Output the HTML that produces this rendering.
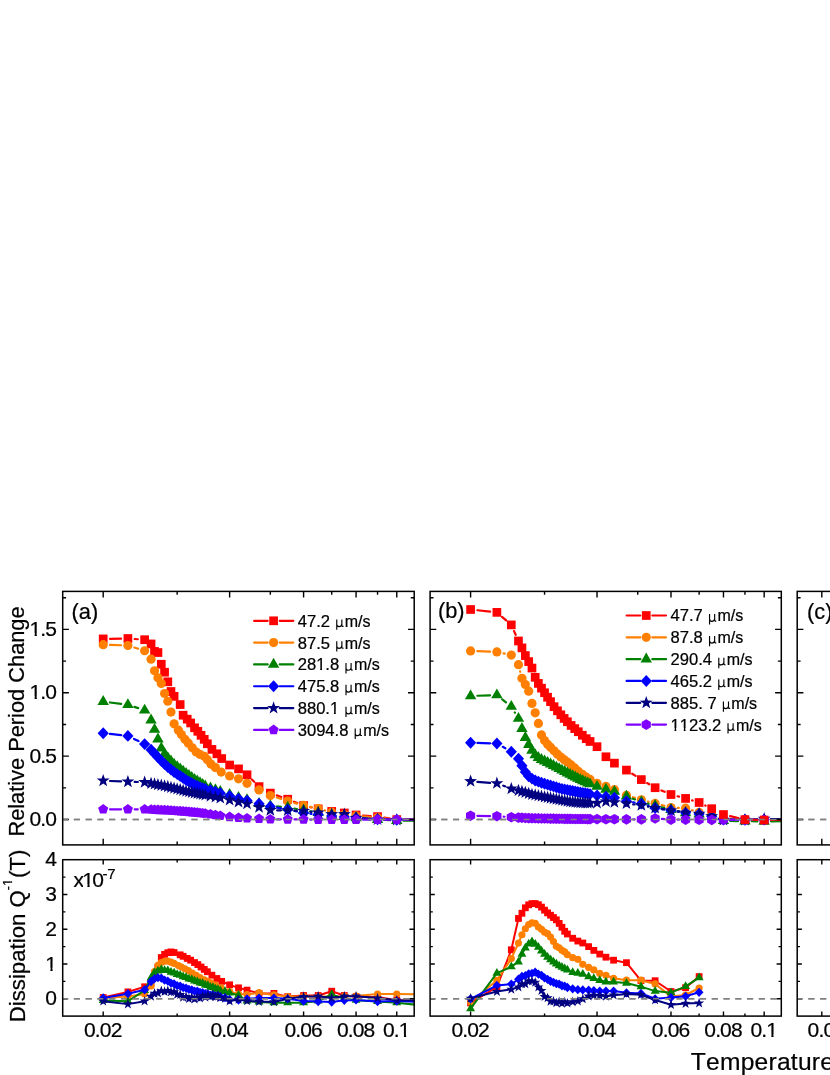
<!DOCTYPE html>
<html><head><meta charset="utf-8"><title>fig</title>
<style>html,body{margin:0;padding:0;background:#fff}text{font-kerning:none;fill:#000;stroke:#000;stroke-width:0.22px}</style></head>
<body>
<svg width="830" height="1075" viewBox="0 0 830 1075" style="display:block;will-change:transform">
<rect width="830" height="1075" fill="#fff"/>
<defs>
<clipPath id="ct0"><rect x="62.7" y="591.4" width="351.5" height="253.5"/></clipPath>
<clipPath id="cb0"><rect x="62.7" y="859.7" width="351.5" height="156.39999999999998"/></clipPath>
<clipPath id="ct1"><rect x="430.1" y="591.4" width="351.19999999999993" height="253.5"/></clipPath>
<clipPath id="cb1"><rect x="430.1" y="859.7" width="351.19999999999993" height="156.39999999999998"/></clipPath>
<clipPath id="ct2"><rect x="797.2" y="591.4" width="352.79999999999995" height="253.5"/></clipPath>
<clipPath id="cb2"><rect x="797.2" y="859.7" width="352.79999999999995" height="156.39999999999998"/></clipPath>
</defs>
<path d="M62.7,819.55H414.2" stroke="#808080" stroke-width="1.6" stroke-dasharray="6.1,5.66" stroke-dashoffset="0.6" fill="none"/>
<path d="M62.7,998.72H414.2" stroke="#808080" stroke-width="1.6" stroke-dasharray="6.1,5.66" stroke-dashoffset="0.6" fill="none"/>
<path d="M430.1,819.55H781.3" stroke="#808080" stroke-width="1.6" stroke-dasharray="6.1,5.66" stroke-dashoffset="0.6" fill="none"/>
<path d="M430.1,998.72H781.3" stroke="#808080" stroke-width="1.6" stroke-dasharray="6.1,5.66" stroke-dashoffset="0.6" fill="none"/>
<path d="M797.2,819.55H1150.0" stroke="#808080" stroke-width="1.6" stroke-dasharray="6.1,5.66" stroke-dashoffset="0.6" fill="none"/>
<path d="M797.2,998.72H1150.0" stroke="#808080" stroke-width="1.6" stroke-dasharray="6.1,5.66" stroke-dashoffset="0.6" fill="none"/>
<g clip-path="url(#ct0)">
<path d="M110.00,638.79L121.10,638.62M134.68,639.00L137.85,639.23M251.87,779.54L254.20,781.83M276.75,795.35L281.30,796.95M294.03,801.74L297.28,803.06M310.22,807.10L311.56,807.40M362.85,815.51L370.77,816.09M384.27,817.65L390.05,818.55M403.57,819.63L430.67,819.77" stroke="#ff0000" stroke-width="2.2" fill="none" stroke-linecap="round" stroke-linejoin="round"/>
<rect x="98.85" y="634.55" width="8.70" height="8.70" fill="#ff0000"/>
<rect x="123.55" y="634.16" width="8.70" height="8.70" fill="#ff0000"/>
<rect x="140.28" y="635.36" width="8.70" height="8.70" fill="#ff0000"/>
<rect x="146.71" y="639.59" width="8.70" height="8.70" fill="#ff0000"/>
<rect x="150.18" y="647.09" width="8.70" height="8.70" fill="#ff0000"/>
<rect x="153.59" y="648.19" width="8.70" height="8.70" fill="#ff0000"/>
<rect x="156.94" y="659.90" width="8.70" height="8.70" fill="#ff0000"/>
<rect x="160.22" y="667.86" width="8.70" height="8.70" fill="#ff0000"/>
<rect x="163.45" y="677.46" width="8.70" height="8.70" fill="#ff0000"/>
<rect x="166.62" y="687.15" width="8.70" height="8.70" fill="#ff0000"/>
<rect x="169.74" y="692.00" width="8.70" height="8.70" fill="#ff0000"/>
<rect x="175.82" y="700.21" width="8.70" height="8.70" fill="#ff0000"/>
<rect x="178.79" y="710.88" width="8.70" height="8.70" fill="#ff0000"/>
<rect x="182.86" y="714.82" width="8.70" height="8.70" fill="#ff0000"/>
<rect x="186.28" y="718.62" width="8.70" height="8.70" fill="#ff0000"/>
<rect x="190.19" y="723.44" width="8.70" height="8.70" fill="#ff0000"/>
<rect x="193.48" y="726.96" width="8.70" height="8.70" fill="#ff0000"/>
<rect x="196.71" y="730.97" width="8.70" height="8.70" fill="#ff0000"/>
<rect x="199.88" y="734.99" width="8.70" height="8.70" fill="#ff0000"/>
<rect x="203.00" y="739.44" width="8.70" height="8.70" fill="#ff0000"/>
<rect x="207.58" y="745.04" width="8.70" height="8.70" fill="#ff0000"/>
<rect x="212.54" y="749.44" width="8.70" height="8.70" fill="#ff0000"/>
<rect x="217.36" y="754.20" width="8.70" height="8.70" fill="#ff0000"/>
<rect x="225.28" y="760.67" width="8.70" height="8.70" fill="#ff0000"/>
<rect x="234.18" y="764.53" width="8.70" height="8.70" fill="#ff0000"/>
<rect x="242.67" y="770.43" width="8.70" height="8.70" fill="#ff0000"/>
<rect x="254.70" y="782.25" width="8.70" height="8.70" fill="#ff0000"/>
<rect x="265.98" y="788.75" width="8.70" height="8.70" fill="#ff0000"/>
<rect x="283.37" y="794.85" width="8.70" height="8.70" fill="#ff0000"/>
<rect x="299.24" y="801.25" width="8.70" height="8.70" fill="#ff0000"/>
<rect x="313.84" y="804.55" width="8.70" height="8.70" fill="#ff0000"/>
<rect x="327.36" y="807.05" width="8.70" height="8.70" fill="#ff0000"/>
<rect x="339.94" y="808.65" width="8.70" height="8.70" fill="#ff0000"/>
<rect x="351.72" y="810.65" width="8.70" height="8.70" fill="#ff0000"/>
<rect x="373.20" y="812.25" width="8.70" height="8.70" fill="#ff0000"/>
<rect x="392.42" y="815.25" width="8.70" height="8.70" fill="#ff0000"/>
<rect x="433.12" y="815.45" width="8.70" height="8.70" fill="#ff0000"/>
</g>
<g clip-path="url(#ct0)">
<path d="M110.00,644.92L121.10,645.27M134.39,647.52L138.14,648.69M276.82,797.55L281.24,798.95M294.27,802.82L297.04,803.58M310.23,806.86L311.55,807.14M324.76,810.35L325.14,810.45M362.84,816.37L370.77,817.03M384.31,818.37L390.01,819.03M403.57,819.80L430.67,819.80" stroke="#ff8000" stroke-width="2.2" fill="none" stroke-linecap="round" stroke-linejoin="round"/>
<circle cx="103.20" cy="644.70" r="4.60" fill="#ff8000"/>
<circle cx="127.90" cy="645.48" r="4.60" fill="#ff8000"/>
<circle cx="144.63" cy="650.73" r="4.60" fill="#ff8000"/>
<circle cx="151.06" cy="659.18" r="4.60" fill="#ff8000"/>
<circle cx="154.53" cy="670.76" r="4.60" fill="#ff8000"/>
<circle cx="157.94" cy="677.87" r="4.60" fill="#ff8000"/>
<circle cx="161.29" cy="683.48" r="4.60" fill="#ff8000"/>
<circle cx="164.57" cy="693.51" r="4.60" fill="#ff8000"/>
<circle cx="167.80" cy="701.27" r="4.60" fill="#ff8000"/>
<circle cx="170.97" cy="712.11" r="4.60" fill="#ff8000"/>
<circle cx="174.09" cy="723.80" r="4.60" fill="#ff8000"/>
<circle cx="178.37" cy="730.15" r="4.60" fill="#ff8000"/>
<circle cx="181.37" cy="734.59" r="4.60" fill="#ff8000"/>
<circle cx="184.90" cy="739.25" r="4.60" fill="#ff8000"/>
<circle cx="188.36" cy="743.17" r="4.60" fill="#ff8000"/>
<circle cx="192.32" cy="747.75" r="4.60" fill="#ff8000"/>
<circle cx="196.19" cy="751.99" r="4.60" fill="#ff8000"/>
<circle cx="199.99" cy="754.41" r="4.60" fill="#ff8000"/>
<circle cx="204.23" cy="756.25" r="4.60" fill="#ff8000"/>
<circle cx="207.35" cy="759.66" r="4.60" fill="#ff8000"/>
<circle cx="210.92" cy="764.05" r="4.60" fill="#ff8000"/>
<circle cx="215.41" cy="767.60" r="4.60" fill="#ff8000"/>
<circle cx="221.23" cy="772.06" r="4.60" fill="#ff8000"/>
<circle cx="229.63" cy="775.98" r="4.60" fill="#ff8000"/>
<circle cx="238.53" cy="778.86" r="4.60" fill="#ff8000"/>
<circle cx="247.02" cy="783.28" r="4.60" fill="#ff8000"/>
<circle cx="259.05" cy="789.90" r="4.60" fill="#ff8000"/>
<circle cx="270.33" cy="795.50" r="4.60" fill="#ff8000"/>
<circle cx="287.72" cy="801.00" r="4.60" fill="#ff8000"/>
<circle cx="303.59" cy="805.40" r="4.60" fill="#ff8000"/>
<circle cx="318.19" cy="808.60" r="4.60" fill="#ff8000"/>
<circle cx="331.71" cy="812.20" r="4.60" fill="#ff8000"/>
<circle cx="344.29" cy="814.60" r="4.60" fill="#ff8000"/>
<circle cx="356.07" cy="815.80" r="4.60" fill="#ff8000"/>
<circle cx="377.55" cy="817.60" r="4.60" fill="#ff8000"/>
<circle cx="396.77" cy="819.80" r="4.60" fill="#ff8000"/>
<circle cx="437.47" cy="819.80" r="4.60" fill="#ff8000"/>
</g>
<g clip-path="url(#ct0)">
<path d="M109.94,702.47L121.15,703.93M134.36,706.91L138.17,708.15M277.11,806.42L280.95,806.78M294.42,808.54L296.89,808.96M310.29,811.25L311.49,811.45M362.85,818.51L370.77,819.09M384.34,819.95L389.98,820.25M403.57,820.63L430.67,820.77" stroke="#008000" stroke-width="2.2" fill="none" stroke-linecap="round" stroke-linejoin="round"/>
<polygon points="103.20,695.00 97.48,704.90 108.92,704.90" fill="#008000"/>
<polygon points="127.90,698.20 122.18,708.10 133.61,708.10" fill="#008000"/>
<polygon points="144.63,703.65 138.91,713.55 150.35,713.55" fill="#008000"/>
<polygon points="151.06,713.55 145.34,723.45 156.77,723.45" fill="#008000"/>
<polygon points="154.53,722.93 148.82,732.83 160.25,732.83" fill="#008000"/>
<polygon points="157.94,732.52 152.22,742.42 163.66,742.42" fill="#008000"/>
<polygon points="161.29,741.49 155.57,751.39 167.00,751.39" fill="#008000"/>
<polygon points="164.57,747.16 158.86,757.06 170.29,757.06" fill="#008000"/>
<polygon points="167.80,751.13 162.09,761.03 173.52,761.03" fill="#008000"/>
<polygon points="170.97,754.57 165.26,764.47 176.69,764.47" fill="#008000"/>
<polygon points="174.09,757.69 168.38,767.59 179.81,767.59" fill="#008000"/>
<polygon points="177.16,760.15 171.44,770.05 182.87,770.05" fill="#008000"/>
<polygon points="180.17,762.38 174.46,772.28 185.89,772.28" fill="#008000"/>
<polygon points="183.14,764.67 177.42,774.57 188.85,774.57" fill="#008000"/>
<polygon points="186.06,766.93 180.34,776.83 191.77,776.83" fill="#008000"/>
<polygon points="188.93,769.00 183.21,778.90 194.65,778.90" fill="#008000"/>
<polygon points="191.76,771.01 186.04,780.91 197.47,780.91" fill="#008000"/>
<polygon points="194.54,772.93 188.83,782.83 200.26,782.83" fill="#008000"/>
<polygon points="197.29,774.62 191.57,784.52 203.00,784.52" fill="#008000"/>
<polygon points="199.99,776.29 194.27,786.19 205.70,786.19" fill="#008000"/>
<polygon points="202.65,777.91 196.94,787.81 208.37,787.81" fill="#008000"/>
<polygon points="205.28,779.49 199.56,789.39 210.99,789.39" fill="#008000"/>
<polygon points="210.41,781.52 204.70,791.42 216.13,791.42" fill="#008000"/>
<polygon points="215.41,783.27 209.70,793.17 221.13,793.17" fill="#008000"/>
<polygon points="220.28,784.88 214.56,794.78 225.99,794.78" fill="#008000"/>
<polygon points="229.63,787.89 223.92,797.79 235.35,797.79" fill="#008000"/>
<polygon points="238.53,790.94 232.82,800.84 244.25,800.84" fill="#008000"/>
<polygon points="247.02,793.19 241.30,803.09 252.73,803.09" fill="#008000"/>
<polygon points="259.05,797.00 253.33,806.90 264.76,806.90" fill="#008000"/>
<polygon points="270.33,799.20 264.62,809.10 276.05,809.10" fill="#008000"/>
<polygon points="287.72,800.80 282.00,810.70 293.44,810.70" fill="#008000"/>
<polygon points="303.59,803.50 297.88,813.40 309.31,813.40" fill="#008000"/>
<polygon points="318.19,806.00 312.48,815.90 323.91,815.90" fill="#008000"/>
<polygon points="331.71,808.40 325.99,818.30 337.42,818.30" fill="#008000"/>
<polygon points="344.29,810.00 338.58,819.90 350.01,819.90" fill="#008000"/>
<polygon points="356.07,811.40 350.35,821.30 361.78,821.30" fill="#008000"/>
<polygon points="377.55,813.00 371.83,822.90 383.26,822.90" fill="#008000"/>
<polygon points="396.77,814.00 391.05,823.90 402.48,823.90" fill="#008000"/>
<polygon points="437.47,814.20 431.75,824.10 443.19,824.10" fill="#008000"/>
</g>
<g clip-path="url(#ct0)">
<path d="M109.96,733.94L121.14,735.16M134.00,738.89L138.52,741.11M277.05,807.68L281.01,808.32M294.35,810.90L296.96,811.50M310.36,813.69L311.43,813.81M362.85,818.38L370.76,818.82M384.35,819.41L389.97,819.59M403.57,819.80L430.67,819.80" stroke="#0000ff" stroke-width="2.2" fill="none" stroke-linecap="round" stroke-linejoin="round"/>
<polygon points="103.20,727.25 108.80,733.20 103.20,739.15 97.60,733.20" fill="#0000ff"/>
<polygon points="127.90,729.95 133.50,735.90 127.90,741.85 122.30,735.90" fill="#0000ff"/>
<polygon points="144.63,738.15 150.23,744.10 144.63,750.05 139.03,744.10" fill="#0000ff"/>
<polygon points="151.06,743.79 156.66,749.74 151.06,755.69 145.46,749.74" fill="#0000ff"/>
<polygon points="154.53,747.51 160.13,753.46 154.53,759.41 148.93,753.46" fill="#0000ff"/>
<polygon points="157.94,751.32 163.54,757.27 157.94,763.22 152.34,757.27" fill="#0000ff"/>
<polygon points="161.29,754.81 166.89,760.76 161.29,766.71 155.69,760.76" fill="#0000ff"/>
<polygon points="164.57,758.06 170.17,764.01 164.57,769.96 158.97,764.01" fill="#0000ff"/>
<polygon points="167.80,761.11 173.40,767.06 167.80,773.01 162.20,767.06" fill="#0000ff"/>
<polygon points="170.97,763.62 176.57,769.57 170.97,775.52 165.37,769.57" fill="#0000ff"/>
<polygon points="174.09,766.09 179.69,772.04 174.09,777.99 168.49,772.04" fill="#0000ff"/>
<polygon points="177.16,768.15 182.76,774.10 177.16,780.05 171.56,774.10" fill="#0000ff"/>
<polygon points="180.17,770.08 185.77,776.03 180.17,781.98 174.57,776.03" fill="#0000ff"/>
<polygon points="183.14,772.06 188.74,778.01 183.14,783.96 177.54,778.01" fill="#0000ff"/>
<polygon points="186.06,774.02 191.66,779.97 186.06,785.92 180.46,779.97" fill="#0000ff"/>
<polygon points="188.93,775.71 194.53,781.66 188.93,787.61 183.33,781.66" fill="#0000ff"/>
<polygon points="191.76,777.35 197.36,783.30 191.76,789.25 186.16,783.30" fill="#0000ff"/>
<polygon points="194.54,778.89 200.14,784.84 194.54,790.79 188.94,784.84" fill="#0000ff"/>
<polygon points="197.29,780.08 202.89,786.03 197.29,791.98 191.69,786.03" fill="#0000ff"/>
<polygon points="199.99,781.26 205.59,787.21 199.99,793.16 194.39,787.21" fill="#0000ff"/>
<polygon points="202.65,782.27 208.25,788.22 202.65,794.17 197.05,788.22" fill="#0000ff"/>
<polygon points="205.28,782.95 210.88,788.90 205.28,794.85 199.68,788.90" fill="#0000ff"/>
<polygon points="210.41,784.31 216.01,790.26 210.41,796.21 204.81,790.26" fill="#0000ff"/>
<polygon points="215.41,785.74 221.01,791.69 215.41,797.64 209.81,791.69" fill="#0000ff"/>
<polygon points="220.28,787.20 225.88,793.15 220.28,799.10 214.68,793.15" fill="#0000ff"/>
<polygon points="229.63,790.09 235.23,796.04 229.63,801.99 224.03,796.04" fill="#0000ff"/>
<polygon points="238.53,792.68 244.13,798.63 238.53,804.58 232.93,798.63" fill="#0000ff"/>
<polygon points="247.02,794.67 252.62,800.62 247.02,806.57 241.42,800.62" fill="#0000ff"/>
<polygon points="259.05,797.75 264.65,803.70 259.05,809.65 253.45,803.70" fill="#0000ff"/>
<polygon points="270.33,800.65 275.93,806.60 270.33,812.55 264.73,806.60" fill="#0000ff"/>
<polygon points="287.72,803.45 293.32,809.40 287.72,815.35 282.12,809.40" fill="#0000ff"/>
<polygon points="303.59,807.05 309.19,813.00 303.59,818.95 297.99,813.00" fill="#0000ff"/>
<polygon points="318.19,808.55 323.79,814.50 318.19,820.45 312.59,814.50" fill="#0000ff"/>
<polygon points="331.71,810.05 337.31,816.00 331.71,821.95 326.11,816.00" fill="#0000ff"/>
<polygon points="344.29,811.05 349.89,817.00 344.29,822.95 338.69,817.00" fill="#0000ff"/>
<polygon points="356.07,812.05 361.67,818.00 356.07,823.95 350.47,818.00" fill="#0000ff"/>
<polygon points="377.55,813.25 383.15,819.20 377.55,825.15 371.95,819.20" fill="#0000ff"/>
<polygon points="396.77,813.85 402.37,819.80 396.77,825.75 391.17,819.80" fill="#0000ff"/>
<polygon points="437.47,813.85 443.07,819.80 437.47,825.75 431.87,819.80" fill="#0000ff"/>
</g>
<g clip-path="url(#ct0)">
<path d="M109.99,780.98L121.10,781.43M134.70,781.92L137.83,782.01M277.13,810.28L280.92,810.32M294.51,810.66L296.80,810.74M310.35,811.74L311.43,811.86M362.85,818.51L370.77,819.09M384.35,819.74L389.97,819.86M403.57,819.97L430.67,819.83" stroke="#000080" stroke-width="2.2" fill="none" stroke-linecap="round" stroke-linejoin="round"/>
<polygon points="103.20,773.90 104.80,778.50 109.67,778.60 105.79,781.54 107.20,786.20 103.20,783.42 99.20,786.20 100.61,781.54 96.73,778.60 101.60,778.50" fill="#000080"/>
<polygon points="127.90,774.91 129.50,779.51 134.37,779.61 130.49,782.55 131.90,787.21 127.90,784.43 123.90,787.21 125.31,782.55 121.43,779.61 126.30,779.51" fill="#000080"/>
<polygon points="144.63,775.42 146.23,780.02 151.10,780.12 147.22,783.06 148.63,787.72 144.63,784.94 140.63,787.72 142.04,783.06 138.16,780.12 143.03,780.02" fill="#000080"/>
<polygon points="151.06,776.64 152.65,781.24 157.52,781.34 153.64,784.28 155.05,788.95 151.06,786.16 147.06,788.95 148.47,784.28 144.59,781.34 149.46,781.24" fill="#000080"/>
<polygon points="154.53,777.31 156.13,781.91 161.00,782.00 157.12,784.95 158.53,789.61 154.53,786.83 150.53,789.61 151.94,784.95 148.06,782.00 152.93,781.91" fill="#000080"/>
<polygon points="157.94,777.96 159.54,782.55 164.41,782.65 160.53,785.60 161.94,790.26 157.94,787.48 153.94,790.26 155.35,785.60 151.47,782.65 156.34,782.55" fill="#000080"/>
<polygon points="161.29,778.59 162.89,783.19 167.75,783.29 163.87,786.23 165.28,790.89 161.29,788.11 157.29,790.89 158.70,786.23 154.82,783.29 159.69,783.19" fill="#000080"/>
<polygon points="164.57,779.22 166.17,783.82 171.04,783.92 167.16,786.86 168.57,791.52 164.57,788.74 160.58,791.52 161.99,786.86 158.11,783.92 162.97,783.82" fill="#000080"/>
<polygon points="167.80,779.87 169.40,784.47 174.27,784.57 170.39,787.52 171.80,792.18 167.80,789.39 163.81,792.18 165.22,787.52 161.34,784.57 166.20,784.47" fill="#000080"/>
<polygon points="170.97,780.66 172.57,785.26 177.44,785.36 173.56,788.30 174.97,792.96 170.97,790.18 166.98,792.96 168.39,788.30 164.51,785.36 169.38,785.26" fill="#000080"/>
<polygon points="174.09,781.44 175.69,786.04 180.56,786.14 176.68,789.08 178.09,793.74 174.09,790.96 170.10,793.74 171.51,789.08 167.63,786.14 172.49,786.04" fill="#000080"/>
<polygon points="177.16,782.20 178.76,786.80 183.63,786.90 179.75,789.84 181.16,794.50 177.16,791.72 173.16,794.50 174.57,789.84 170.69,786.90 175.56,786.80" fill="#000080"/>
<polygon points="180.17,782.95 181.77,787.55 186.64,787.65 182.76,790.59 184.17,795.25 180.17,792.47 176.18,795.25 177.59,790.59 173.71,787.65 178.57,787.55" fill="#000080"/>
<polygon points="183.14,783.69 184.74,788.29 189.61,788.39 185.73,791.33 187.14,795.99 183.14,793.21 179.14,795.99 180.55,791.33 176.67,788.39 181.54,788.29" fill="#000080"/>
<polygon points="186.06,784.41 187.66,789.01 192.53,789.11 188.64,792.06 190.05,796.72 186.06,793.93 182.06,796.72 183.47,792.06 179.59,789.11 184.46,789.01" fill="#000080"/>
<polygon points="188.93,785.01 190.53,789.61 195.40,789.71 191.52,792.65 192.93,797.31 188.93,794.53 184.93,797.31 186.34,792.65 182.46,789.71 187.33,789.61" fill="#000080"/>
<polygon points="191.76,785.58 193.36,790.18 198.23,790.28 194.35,793.22 195.76,797.88 191.76,795.10 187.76,797.88 189.17,793.22 185.29,790.28 190.16,790.18" fill="#000080"/>
<polygon points="194.54,786.15 196.14,790.75 201.01,790.84 197.13,793.79 198.54,798.45 194.54,795.67 190.55,798.45 191.96,793.79 188.08,790.84 192.94,790.75" fill="#000080"/>
<polygon points="197.29,786.70 198.88,791.30 203.75,791.40 199.87,794.34 201.28,799.00 197.29,796.22 193.29,799.00 194.70,794.34 190.82,791.40 195.69,791.30" fill="#000080"/>
<polygon points="199.99,787.25 201.59,791.85 206.46,791.94 202.58,794.89 203.99,799.55 199.99,796.77 195.99,799.55 197.40,794.89 193.52,791.94 198.39,791.85" fill="#000080"/>
<polygon points="202.65,787.78 204.25,792.38 209.12,792.48 205.24,795.42 206.65,800.09 202.65,797.30 198.65,800.09 200.06,795.42 196.18,792.48 201.05,792.38" fill="#000080"/>
<polygon points="205.28,788.31 206.87,792.91 211.74,793.01 207.86,795.95 209.27,800.62 205.28,797.83 201.28,800.62 202.69,795.95 198.81,793.01 203.68,792.91" fill="#000080"/>
<polygon points="210.41,789.33 212.01,793.93 216.88,794.03 213.00,796.97 214.41,801.63 210.41,798.85 206.42,801.63 207.83,796.97 203.95,794.03 208.82,793.93" fill="#000080"/>
<polygon points="215.41,790.31 217.01,794.91 221.88,795.01 218.00,797.95 219.41,802.61 215.41,799.83 211.42,802.61 212.83,797.95 208.94,795.01 213.81,794.91" fill="#000080"/>
<polygon points="220.28,791.27 221.88,795.87 226.74,795.97 222.86,798.91 224.27,803.57 220.28,800.79 216.28,803.57 217.69,798.91 213.81,795.97 218.68,795.87" fill="#000080"/>
<polygon points="229.63,793.20 231.23,797.80 236.10,797.90 232.22,800.84 233.63,805.50 229.63,802.72 225.64,805.50 227.05,800.84 223.17,797.90 228.03,797.80" fill="#000080"/>
<polygon points="238.53,795.13 240.13,799.73 245.00,799.83 241.12,802.77 242.53,807.43 238.53,804.65 234.54,807.43 235.95,802.77 232.06,799.83 236.93,799.73" fill="#000080"/>
<polygon points="247.02,797.07 248.62,801.67 253.48,801.77 249.60,804.71 251.01,809.37 247.02,806.59 243.02,809.37 244.43,804.71 240.55,801.77 245.42,801.67" fill="#000080"/>
<polygon points="259.05,800.40 260.65,805.00 265.52,805.10 261.64,808.04 263.05,812.70 259.05,809.92 255.05,812.70 256.46,808.04 252.58,805.10 257.45,805.00" fill="#000080"/>
<polygon points="270.33,803.40 271.93,808.00 276.80,808.10 272.92,811.04 274.33,815.70 270.33,812.92 266.34,815.70 267.75,811.04 263.87,808.10 268.74,808.00" fill="#000080"/>
<polygon points="287.72,803.60 289.32,808.20 294.19,808.30 290.31,811.24 291.72,815.90 287.72,813.12 283.72,815.90 285.13,811.24 281.25,808.30 286.12,808.20" fill="#000080"/>
<polygon points="303.59,804.20 305.19,808.80 310.06,808.90 306.18,811.84 307.59,816.50 303.59,813.72 299.59,816.50 301.00,811.84 297.12,808.90 301.99,808.80" fill="#000080"/>
<polygon points="318.19,805.80 319.79,810.40 324.66,810.50 320.78,813.44 322.19,818.10 318.19,815.32 314.19,818.10 315.60,813.44 311.72,810.50 316.59,810.40" fill="#000080"/>
<polygon points="331.71,807.50 333.31,812.10 338.18,812.20 334.30,815.14 335.71,819.80 331.71,817.02 327.71,819.80 329.12,815.14 325.24,812.20 330.11,812.10" fill="#000080"/>
<polygon points="344.29,807.50 345.89,812.10 350.76,812.20 346.88,815.14 348.29,819.80 344.29,817.02 340.30,819.80 341.71,815.14 337.83,812.20 342.69,812.10" fill="#000080"/>
<polygon points="356.07,811.20 357.66,815.80 362.53,815.90 358.65,818.84 360.06,823.50 356.07,820.72 352.07,823.50 353.48,818.84 349.60,815.90 354.47,815.80" fill="#000080"/>
<polygon points="377.55,812.80 379.15,817.40 384.02,817.50 380.14,820.44 381.55,825.10 377.55,822.32 373.55,825.10 374.96,820.44 371.08,817.50 375.95,817.40" fill="#000080"/>
<polygon points="396.77,813.20 398.37,817.80 403.23,817.90 399.35,820.84 400.76,825.50 396.77,822.72 392.77,825.50 394.18,820.84 390.30,817.90 395.17,817.80" fill="#000080"/>
<polygon points="437.47,813.00 439.07,817.60 443.94,817.70 440.06,820.64 441.47,825.30 437.47,822.52 433.47,825.30 434.88,820.64 431.00,817.70 435.87,817.60" fill="#000080"/>
</g>
<g clip-path="url(#ct0)">
<path d="M110.00,809.30L121.10,809.30M134.70,809.31L137.83,809.31M277.13,819.28L280.92,819.32M294.52,819.44L296.79,819.46M310.39,819.55L311.39,819.55M362.87,819.60L370.75,819.60M384.35,819.60L389.97,819.60M403.57,819.63L430.67,819.77" stroke="#8000ff" stroke-width="2.2" fill="none" stroke-linecap="round" stroke-linejoin="round"/>
<polygon points="103.20,804.00 108.24,807.66 106.32,813.59 100.08,813.59 98.16,807.66" fill="#8000ff"/>
<polygon points="127.90,804.00 132.94,807.66 131.01,813.59 124.78,813.59 122.86,807.66" fill="#8000ff"/>
<polygon points="144.63,804.02 149.67,807.69 147.75,813.61 141.52,813.61 139.59,807.69" fill="#8000ff"/>
<polygon points="151.06,804.27 156.10,807.94 154.17,813.86 147.94,813.86 146.02,807.94" fill="#8000ff"/>
<polygon points="154.53,804.41 159.57,808.07 157.65,814.00 151.42,814.00 149.49,808.07" fill="#8000ff"/>
<polygon points="157.94,804.54 162.98,808.21 161.06,814.13 154.82,814.13 152.90,808.21" fill="#8000ff"/>
<polygon points="161.29,804.67 166.33,808.34 164.40,814.26 158.17,814.26 156.25,808.34" fill="#8000ff"/>
<polygon points="164.57,804.80 169.61,808.46 167.69,814.39 161.46,814.39 159.53,808.46" fill="#8000ff"/>
<polygon points="167.80,804.95 172.84,808.61 170.92,814.54 164.69,814.54 162.76,808.61" fill="#8000ff"/>
<polygon points="170.97,805.18 176.02,808.84 174.09,814.77 167.86,814.77 165.93,808.84" fill="#8000ff"/>
<polygon points="174.09,805.41 179.13,809.07 177.21,815.00 170.98,815.00 169.05,809.07" fill="#8000ff"/>
<polygon points="177.16,805.63 182.20,809.29 180.27,815.22 174.04,815.22 172.12,809.29" fill="#8000ff"/>
<polygon points="180.17,805.85 185.21,809.51 183.29,815.44 177.06,815.44 175.13,809.51" fill="#8000ff"/>
<polygon points="183.14,806.06 188.18,809.73 186.25,815.65 180.02,815.65 178.10,809.73" fill="#8000ff"/>
<polygon points="186.06,806.28 191.10,809.94 189.17,815.86 182.94,815.86 181.02,809.94" fill="#8000ff"/>
<polygon points="188.93,806.55 193.97,810.21 192.05,816.14 185.82,816.14 183.89,810.21" fill="#8000ff"/>
<polygon points="191.76,806.83 196.80,810.49 194.87,816.42 188.64,816.42 186.72,810.49" fill="#8000ff"/>
<polygon points="194.54,807.10 199.58,810.76 197.66,816.69 191.43,816.69 189.50,810.76" fill="#8000ff"/>
<polygon points="197.29,807.37 202.33,811.03 200.40,816.96 194.17,816.96 192.25,811.03" fill="#8000ff"/>
<polygon points="199.99,807.64 205.03,811.30 203.10,817.23 196.87,817.23 194.95,811.30" fill="#8000ff"/>
<polygon points="202.65,807.90 207.69,811.56 205.77,817.49 199.54,817.49 197.61,811.56" fill="#8000ff"/>
<polygon points="205.28,808.16 210.32,811.82 208.39,817.75 202.16,817.75 200.24,811.82" fill="#8000ff"/>
<polygon points="210.41,808.91 215.46,812.57 213.53,818.50 207.30,818.50 205.37,812.57" fill="#8000ff"/>
<polygon points="215.41,809.66 220.45,813.32 218.53,819.25 212.30,819.25 210.37,813.32" fill="#8000ff"/>
<polygon points="220.28,810.39 225.32,814.05 223.39,819.98 217.16,819.98 215.24,814.05" fill="#8000ff"/>
<polygon points="229.63,811.57 234.67,815.23 232.75,821.16 226.52,821.16 224.59,815.23" fill="#8000ff"/>
<polygon points="238.53,812.43 243.57,816.09 241.65,822.01 235.42,822.01 233.49,816.09" fill="#8000ff"/>
<polygon points="247.02,812.88 252.06,816.54 250.13,822.46 243.90,822.46 241.98,816.54" fill="#8000ff"/>
<polygon points="259.05,813.40 264.09,817.06 262.16,822.99 255.93,822.99 254.01,817.06" fill="#8000ff"/>
<polygon points="270.33,813.90 275.38,817.56 273.45,823.49 267.22,823.49 265.29,817.56" fill="#8000ff"/>
<polygon points="287.72,814.10 292.76,817.76 290.83,823.69 284.60,823.69 282.68,817.76" fill="#8000ff"/>
<polygon points="303.59,814.20 308.63,817.86 306.71,823.79 300.48,823.79 298.55,817.86" fill="#8000ff"/>
<polygon points="318.19,814.30 323.23,817.96 321.31,823.89 315.08,823.89 313.15,817.96" fill="#8000ff"/>
<polygon points="331.71,814.30 336.75,817.96 334.82,823.89 328.59,823.89 326.67,817.96" fill="#8000ff"/>
<polygon points="344.29,814.30 349.33,817.96 347.41,823.89 341.18,823.89 339.25,817.96" fill="#8000ff"/>
<polygon points="356.07,814.30 361.11,817.96 359.18,823.89 352.95,823.89 351.02,817.96" fill="#8000ff"/>
<polygon points="377.55,814.30 382.59,817.96 380.66,823.89 374.43,823.89 372.51,817.96" fill="#8000ff"/>
<polygon points="396.77,814.30 401.81,817.96 399.88,823.89 393.65,823.89 391.73,817.96" fill="#8000ff"/>
<polygon points="437.47,814.50 442.51,818.16 440.58,824.09 434.35,824.09 432.43,818.16" fill="#8000ff"/>
</g>
<g clip-path="url(#cb0)">
<path d="M103.20,997.50L127.90,991.86M127.90,991.86L144.63,986.76M144.63,986.76L151.06,982.87M151.06,982.87L154.53,975.07M154.53,975.07L157.94,967.38M157.94,967.38L161.29,957.54M161.29,957.54L164.57,954.31M164.57,954.31L167.80,952.70M167.80,952.70L170.97,951.91M170.97,951.91L174.09,952.55M174.09,952.55L180.17,954.84M180.17,954.84L183.14,956.32M183.14,956.32L187.21,958.39M187.21,958.39L190.63,960.17M190.63,960.17L194.54,962.57M194.54,962.57L197.83,964.60M197.83,964.60L201.06,967.00M201.06,967.00L204.23,969.39M204.23,969.39L207.35,971.74M207.35,971.74L211.93,975.19M211.93,975.19L216.89,978.47M216.89,978.47L221.71,981.37M221.71,981.37L229.63,984.83M229.63,984.83L238.53,987.84M238.53,987.84L247.02,990.10M247.02,990.10L259.05,993.40M259.05,993.40L273.95,993.40M273.95,993.40L287.72,996.60M287.72,996.60L303.59,995.50M303.59,995.50L318.19,995.50M318.19,995.50L331.71,991.20M331.71,991.20L344.29,995.50M344.29,995.50L356.07,996.60M356.07,996.60L377.55,997.30M377.55,997.30L396.77,999.90M396.77,999.90L437.47,1003.00" stroke="#ff0000" stroke-width="2.0" fill="none" stroke-linecap="round" stroke-linejoin="round"/>
<rect x="99.81" y="994.11" width="6.79" height="6.79" fill="#ff0000"/>
<rect x="124.51" y="988.47" width="6.79" height="6.79" fill="#ff0000"/>
<rect x="141.24" y="983.37" width="6.79" height="6.79" fill="#ff0000"/>
<rect x="147.66" y="979.48" width="6.79" height="6.79" fill="#ff0000"/>
<rect x="151.14" y="971.68" width="6.79" height="6.79" fill="#ff0000"/>
<rect x="154.55" y="963.99" width="6.79" height="6.79" fill="#ff0000"/>
<rect x="157.89" y="954.14" width="6.79" height="6.79" fill="#ff0000"/>
<rect x="161.18" y="950.92" width="6.79" height="6.79" fill="#ff0000"/>
<rect x="164.41" y="949.31" width="6.79" height="6.79" fill="#ff0000"/>
<rect x="167.58" y="948.51" width="6.79" height="6.79" fill="#ff0000"/>
<rect x="170.70" y="949.16" width="6.79" height="6.79" fill="#ff0000"/>
<rect x="176.78" y="951.44" width="6.79" height="6.79" fill="#ff0000"/>
<rect x="179.75" y="952.93" width="6.79" height="6.79" fill="#ff0000"/>
<rect x="183.82" y="954.99" width="6.79" height="6.79" fill="#ff0000"/>
<rect x="187.24" y="956.77" width="6.79" height="6.79" fill="#ff0000"/>
<rect x="191.15" y="959.18" width="6.79" height="6.79" fill="#ff0000"/>
<rect x="194.44" y="961.20" width="6.79" height="6.79" fill="#ff0000"/>
<rect x="197.67" y="963.61" width="6.79" height="6.79" fill="#ff0000"/>
<rect x="200.84" y="966.00" width="6.79" height="6.79" fill="#ff0000"/>
<rect x="203.96" y="968.35" width="6.79" height="6.79" fill="#ff0000"/>
<rect x="208.54" y="971.80" width="6.79" height="6.79" fill="#ff0000"/>
<rect x="213.49" y="975.08" width="6.79" height="6.79" fill="#ff0000"/>
<rect x="218.32" y="977.97" width="6.79" height="6.79" fill="#ff0000"/>
<rect x="226.24" y="981.43" width="6.79" height="6.79" fill="#ff0000"/>
<rect x="235.14" y="984.44" width="6.79" height="6.79" fill="#ff0000"/>
<rect x="243.62" y="986.71" width="6.79" height="6.79" fill="#ff0000"/>
<rect x="255.66" y="990.01" width="6.79" height="6.79" fill="#ff0000"/>
<rect x="270.55" y="990.01" width="6.79" height="6.79" fill="#ff0000"/>
<rect x="284.33" y="993.21" width="6.79" height="6.79" fill="#ff0000"/>
<rect x="300.20" y="992.11" width="6.79" height="6.79" fill="#ff0000"/>
<rect x="314.80" y="992.11" width="6.79" height="6.79" fill="#ff0000"/>
<rect x="328.32" y="987.81" width="6.79" height="6.79" fill="#ff0000"/>
<rect x="340.90" y="992.11" width="6.79" height="6.79" fill="#ff0000"/>
<rect x="352.67" y="993.21" width="6.79" height="6.79" fill="#ff0000"/>
<rect x="374.16" y="993.91" width="6.79" height="6.79" fill="#ff0000"/>
<rect x="393.37" y="996.51" width="6.79" height="6.79" fill="#ff0000"/>
<rect x="434.08" y="999.61" width="6.79" height="6.79" fill="#ff0000"/>
</g>
<g clip-path="url(#cb0)">
<path d="M103.20,998.00L127.90,996.54M127.90,996.54L144.63,993.96M144.63,993.96L151.06,986.03M151.06,986.03L154.53,971.56M154.53,971.56L157.94,965.34M157.94,965.34L161.29,962.62M161.29,962.62L164.57,961.33M164.57,961.33L167.80,961.04M167.80,961.04L170.97,962.14M170.97,962.14L174.09,963.39M174.09,963.39L178.37,965.50M178.37,965.50L181.37,966.99M181.37,966.99L184.90,968.78M184.90,968.78L188.36,970.54M188.36,970.54L192.32,973.01M192.32,973.01L196.19,975.41M196.19,975.41L199.99,977.58M199.99,977.58L204.23,979.93M204.23,979.93L207.35,981.26M207.35,981.26L210.92,982.79M210.92,982.79L215.41,984.99M215.41,984.99L221.23,987.86M221.23,987.86L229.63,991.62M229.63,991.62L238.53,994.01M238.53,994.01L247.02,994.50M247.02,994.50L259.05,992.70M259.05,992.70L273.95,994.90M273.95,994.90L287.72,996.60M287.72,996.60L303.59,996.60M303.59,996.60L318.19,996.60M318.19,996.60L331.71,996.60M331.71,996.60L344.29,996.20M344.29,996.20L356.07,996.00M356.07,996.00L377.55,994.00M377.55,994.00L396.77,994.00M396.77,994.00L437.47,994.50" stroke="#ff8000" stroke-width="2.0" fill="none" stroke-linecap="round" stroke-linejoin="round"/>
<circle cx="103.20" cy="998.00" r="3.59" fill="#ff8000"/>
<circle cx="127.90" cy="996.54" r="3.59" fill="#ff8000"/>
<circle cx="144.63" cy="993.96" r="3.59" fill="#ff8000"/>
<circle cx="151.06" cy="986.03" r="3.59" fill="#ff8000"/>
<circle cx="154.53" cy="971.56" r="3.59" fill="#ff8000"/>
<circle cx="157.94" cy="965.34" r="3.59" fill="#ff8000"/>
<circle cx="161.29" cy="962.62" r="3.59" fill="#ff8000"/>
<circle cx="164.57" cy="961.33" r="3.59" fill="#ff8000"/>
<circle cx="167.80" cy="961.04" r="3.59" fill="#ff8000"/>
<circle cx="170.97" cy="962.14" r="3.59" fill="#ff8000"/>
<circle cx="174.09" cy="963.39" r="3.59" fill="#ff8000"/>
<circle cx="178.37" cy="965.50" r="3.59" fill="#ff8000"/>
<circle cx="181.37" cy="966.99" r="3.59" fill="#ff8000"/>
<circle cx="184.90" cy="968.78" r="3.59" fill="#ff8000"/>
<circle cx="188.36" cy="970.54" r="3.59" fill="#ff8000"/>
<circle cx="192.32" cy="973.01" r="3.59" fill="#ff8000"/>
<circle cx="196.19" cy="975.41" r="3.59" fill="#ff8000"/>
<circle cx="199.99" cy="977.58" r="3.59" fill="#ff8000"/>
<circle cx="204.23" cy="979.93" r="3.59" fill="#ff8000"/>
<circle cx="207.35" cy="981.26" r="3.59" fill="#ff8000"/>
<circle cx="210.92" cy="982.79" r="3.59" fill="#ff8000"/>
<circle cx="215.41" cy="984.99" r="3.59" fill="#ff8000"/>
<circle cx="221.23" cy="987.86" r="3.59" fill="#ff8000"/>
<circle cx="229.63" cy="991.62" r="3.59" fill="#ff8000"/>
<circle cx="238.53" cy="994.01" r="3.59" fill="#ff8000"/>
<circle cx="247.02" cy="994.50" r="3.59" fill="#ff8000"/>
<circle cx="259.05" cy="992.70" r="3.59" fill="#ff8000"/>
<circle cx="273.95" cy="994.90" r="3.59" fill="#ff8000"/>
<circle cx="287.72" cy="996.60" r="3.59" fill="#ff8000"/>
<circle cx="303.59" cy="996.60" r="3.59" fill="#ff8000"/>
<circle cx="318.19" cy="996.60" r="3.59" fill="#ff8000"/>
<circle cx="331.71" cy="996.60" r="3.59" fill="#ff8000"/>
<circle cx="344.29" cy="996.20" r="3.59" fill="#ff8000"/>
<circle cx="356.07" cy="996.00" r="3.59" fill="#ff8000"/>
<circle cx="377.55" cy="994.00" r="3.59" fill="#ff8000"/>
<circle cx="396.77" cy="994.00" r="3.59" fill="#ff8000"/>
<circle cx="437.47" cy="994.50" r="3.59" fill="#ff8000"/>
</g>
<g clip-path="url(#cb0)">
<path d="M103.20,1000.40L127.90,1001.27M127.90,1001.27L144.63,990.44M144.63,990.44L151.06,977.80M151.06,977.80L154.53,972.49M154.53,972.49L157.94,970.90M157.94,970.90L161.29,969.36M161.29,969.36L164.57,970.33M164.57,970.33L167.80,970.54M167.80,970.54L170.97,972.10M170.97,972.10L174.09,972.87M174.09,972.87L177.16,974.42M177.16,974.42L180.17,975.18M180.17,975.18L183.14,976.68M183.14,976.68L186.06,977.49M186.06,977.49L188.93,978.96M188.93,978.96L191.76,979.41M191.76,979.41L194.54,980.91M194.54,980.91L197.29,981.56M197.29,981.56L199.99,983.04M199.99,983.04L202.65,983.37M202.65,983.37L205.28,985.02M205.28,985.02L207.86,985.48M207.86,985.48L210.41,987.07M210.41,987.07L212.93,987.49M212.93,987.49L215.41,988.92M215.41,988.92L217.86,989.28M217.86,989.28L220.28,990.55M220.28,990.55L225.01,991.45M225.01,991.45L229.63,992.87M229.63,992.87L238.53,995.24M238.53,995.24L247.02,1001.00M247.02,1001.00L259.05,1002.00M259.05,1002.00L273.95,1002.70M273.95,1002.70L287.72,1002.70M287.72,1002.70L303.59,1002.70M303.59,1002.70L318.19,1001.00M318.19,1001.00L331.71,994.50M331.71,994.50L344.29,998.80M344.29,998.80L356.07,1000.30M356.07,1000.30L377.55,1001.40M377.55,1001.40L396.77,1002.70M396.77,1002.70L437.47,1007.00" stroke="#008000" stroke-width="2.0" fill="none" stroke-linecap="round" stroke-linejoin="round"/>
<polygon points="103.20,995.25 98.74,1002.97 107.66,1002.97" fill="#008000"/>
<polygon points="127.90,996.13 123.44,1003.85 132.36,1003.85" fill="#008000"/>
<polygon points="144.63,985.29 140.17,993.01 149.09,993.01" fill="#008000"/>
<polygon points="151.06,972.65 146.60,980.37 155.51,980.37" fill="#008000"/>
<polygon points="154.53,967.34 150.07,975.06 158.99,975.06" fill="#008000"/>
<polygon points="157.94,965.75 153.48,973.48 162.40,973.48" fill="#008000"/>
<polygon points="161.29,964.22 156.83,971.94 165.75,971.94" fill="#008000"/>
<polygon points="164.57,965.19 160.12,972.91 169.03,972.91" fill="#008000"/>
<polygon points="167.80,965.39 163.34,973.12 172.26,973.12" fill="#008000"/>
<polygon points="170.97,966.95 166.52,974.67 175.43,974.67" fill="#008000"/>
<polygon points="174.09,967.72 169.63,975.45 178.55,975.45" fill="#008000"/>
<polygon points="177.16,969.27 172.70,976.99 181.62,976.99" fill="#008000"/>
<polygon points="180.17,970.03 175.72,977.76 184.63,977.76" fill="#008000"/>
<polygon points="183.14,971.53 178.68,979.25 187.60,979.25" fill="#008000"/>
<polygon points="186.06,972.35 181.60,980.07 190.52,980.07" fill="#008000"/>
<polygon points="188.93,973.81 184.47,981.53 193.39,981.53" fill="#008000"/>
<polygon points="191.76,974.26 187.30,981.98 196.22,981.98" fill="#008000"/>
<polygon points="194.54,975.77 190.09,983.49 199.00,983.49" fill="#008000"/>
<polygon points="197.29,976.41 192.83,984.14 201.74,984.14" fill="#008000"/>
<polygon points="199.99,977.90 195.53,985.62 204.45,985.62" fill="#008000"/>
<polygon points="202.65,978.22 198.19,985.94 207.11,985.94" fill="#008000"/>
<polygon points="205.28,979.87 200.82,987.60 209.73,987.60" fill="#008000"/>
<polygon points="207.86,980.34 203.41,988.06 212.32,988.06" fill="#008000"/>
<polygon points="210.41,981.92 205.96,989.64 214.87,989.64" fill="#008000"/>
<polygon points="212.93,982.34 208.47,990.06 217.39,990.06" fill="#008000"/>
<polygon points="215.41,983.77 210.95,991.49 219.87,991.49" fill="#008000"/>
<polygon points="217.86,984.13 213.40,991.85 222.32,991.85" fill="#008000"/>
<polygon points="220.28,985.40 215.82,993.12 224.73,993.12" fill="#008000"/>
<polygon points="225.01,986.30 220.56,994.02 229.47,994.02" fill="#008000"/>
<polygon points="229.63,987.72 225.17,995.44 234.09,995.44" fill="#008000"/>
<polygon points="238.53,990.09 234.07,997.81 242.99,997.81" fill="#008000"/>
<polygon points="247.02,995.85 242.56,1003.57 251.48,1003.57" fill="#008000"/>
<polygon points="259.05,996.85 254.59,1004.57 263.51,1004.57" fill="#008000"/>
<polygon points="273.95,997.55 269.49,1005.27 278.41,1005.27" fill="#008000"/>
<polygon points="287.72,997.55 283.26,1005.27 292.18,1005.27" fill="#008000"/>
<polygon points="303.59,997.55 299.13,1005.27 308.05,1005.27" fill="#008000"/>
<polygon points="318.19,995.85 313.73,1003.57 322.65,1003.57" fill="#008000"/>
<polygon points="331.71,989.35 327.25,997.07 336.17,997.07" fill="#008000"/>
<polygon points="344.29,993.65 339.83,1001.37 348.75,1001.37" fill="#008000"/>
<polygon points="356.07,995.15 351.61,1002.87 360.52,1002.87" fill="#008000"/>
<polygon points="377.55,996.25 373.09,1003.97 382.01,1003.97" fill="#008000"/>
<polygon points="396.77,997.55 392.31,1005.27 401.23,1005.27" fill="#008000"/>
<polygon points="437.47,1001.85 433.01,1009.57 441.93,1009.57" fill="#008000"/>
</g>
<g clip-path="url(#cb0)">
<path d="M103.20,997.90L127.90,993.72M127.90,993.72L144.63,989.75M144.63,989.75L151.06,981.51M151.06,981.51L154.53,978.72M154.53,978.72L157.94,977.69M157.94,977.69L161.29,978.12M161.29,978.12L164.57,980.16M164.57,980.16L167.80,981.04M167.80,981.04L170.97,983.12M170.97,983.12L174.09,983.91M174.09,983.91L177.16,985.70M177.16,985.70L180.17,986.08M180.17,986.08L183.14,987.71M183.14,987.71L186.06,988.14M186.06,988.14L188.93,989.42M188.93,989.42L191.76,989.83M191.76,989.83L194.54,991.11M194.54,991.11L197.29,991.26M197.29,991.26L199.99,992.36M199.99,992.36L202.65,992.73M202.65,992.73L205.28,993.76M205.28,993.76L207.86,993.82M207.86,993.82L210.41,995.08M210.41,995.08L212.93,995.00M212.93,995.00L215.41,995.91M215.41,995.91L217.86,995.81M217.86,995.81L220.28,996.66M220.28,996.66L225.01,997.65M225.01,997.65L229.63,999.46M229.63,999.46L238.53,1000.01M238.53,1000.01L247.02,998.80M247.02,998.80L259.05,998.10M259.05,998.10L273.95,998.10M273.95,998.10L287.72,998.80M287.72,998.80L303.59,1001.00M303.59,1001.00L318.19,1001.60M318.19,1001.60L331.71,1002.00M331.71,1002.00L344.29,1000.30M344.29,1000.30L356.07,999.90M356.07,999.90L377.55,1001.60M377.55,1001.60L396.77,1001.00M396.77,1001.00L437.47,1002.50" stroke="#0000ff" stroke-width="2.0" fill="none" stroke-linecap="round" stroke-linejoin="round"/>
<polygon points="103.20,993.26 107.57,997.90 103.20,1002.54 98.83,997.90" fill="#0000ff"/>
<polygon points="127.90,989.08 132.27,993.72 127.90,998.36 123.53,993.72" fill="#0000ff"/>
<polygon points="144.63,985.11 149.00,989.75 144.63,994.40 140.26,989.75" fill="#0000ff"/>
<polygon points="151.06,976.87 155.42,981.51 151.06,986.15 146.69,981.51" fill="#0000ff"/>
<polygon points="154.53,974.08 158.90,978.72 154.53,983.36 150.16,978.72" fill="#0000ff"/>
<polygon points="157.94,973.05 162.31,977.69 157.94,982.34 153.57,977.69" fill="#0000ff"/>
<polygon points="161.29,973.48 165.66,978.12 161.29,982.76 156.92,978.12" fill="#0000ff"/>
<polygon points="164.57,975.51 168.94,980.16 164.57,984.80 160.21,980.16" fill="#0000ff"/>
<polygon points="167.80,976.40 172.17,981.04 167.80,985.68 163.43,981.04" fill="#0000ff"/>
<polygon points="170.97,978.47 175.34,983.12 170.97,987.76 166.61,983.12" fill="#0000ff"/>
<polygon points="174.09,979.27 178.46,983.91 174.09,988.56 169.72,983.91" fill="#0000ff"/>
<polygon points="177.16,981.06 181.53,985.70 177.16,990.34 172.79,985.70" fill="#0000ff"/>
<polygon points="180.17,981.44 184.54,986.08 180.17,990.72 175.81,986.08" fill="#0000ff"/>
<polygon points="183.14,983.07 187.51,987.71 183.14,992.35 178.77,987.71" fill="#0000ff"/>
<polygon points="186.06,983.50 190.43,988.14 186.06,992.78 181.69,988.14" fill="#0000ff"/>
<polygon points="188.93,984.78 193.30,989.42 188.93,994.06 184.56,989.42" fill="#0000ff"/>
<polygon points="191.76,985.19 196.13,989.83 191.76,994.47 187.39,989.83" fill="#0000ff"/>
<polygon points="194.54,986.47 198.91,991.11 194.54,995.75 190.18,991.11" fill="#0000ff"/>
<polygon points="197.29,986.62 201.65,991.26 197.29,995.90 192.92,991.26" fill="#0000ff"/>
<polygon points="199.99,987.72 204.36,992.36 199.99,997.00 195.62,992.36" fill="#0000ff"/>
<polygon points="202.65,988.09 207.02,992.73 202.65,997.37 198.28,992.73" fill="#0000ff"/>
<polygon points="205.28,989.11 209.64,993.76 205.28,998.40 200.91,993.76" fill="#0000ff"/>
<polygon points="207.86,989.18 212.23,993.82 207.86,998.46 203.50,993.82" fill="#0000ff"/>
<polygon points="210.41,990.44 214.78,995.08 210.41,999.73 206.05,995.08" fill="#0000ff"/>
<polygon points="212.93,990.36 217.30,995.00 212.93,999.64 208.56,995.00" fill="#0000ff"/>
<polygon points="215.41,991.27 219.78,995.91 215.41,1000.55 211.04,995.91" fill="#0000ff"/>
<polygon points="217.86,991.17 222.23,995.81 217.86,1000.45 213.49,995.81" fill="#0000ff"/>
<polygon points="220.28,992.02 224.64,996.66 220.28,1001.30 215.91,996.66" fill="#0000ff"/>
<polygon points="225.01,993.01 229.38,997.65 225.01,1002.29 220.65,997.65" fill="#0000ff"/>
<polygon points="229.63,994.82 234.00,999.46 229.63,1004.11 225.26,999.46" fill="#0000ff"/>
<polygon points="238.53,995.37 242.90,1000.01 238.53,1004.65 234.16,1000.01" fill="#0000ff"/>
<polygon points="247.02,994.16 251.39,998.80 247.02,1003.44 242.65,998.80" fill="#0000ff"/>
<polygon points="259.05,993.46 263.42,998.10 259.05,1002.74 254.68,998.10" fill="#0000ff"/>
<polygon points="273.95,993.46 278.31,998.10 273.95,1002.74 269.58,998.10" fill="#0000ff"/>
<polygon points="287.72,994.16 292.09,998.80 287.72,1003.44 283.35,998.80" fill="#0000ff"/>
<polygon points="303.59,996.36 307.96,1001.00 303.59,1005.64 299.22,1001.00" fill="#0000ff"/>
<polygon points="318.19,996.96 322.56,1001.60 318.19,1006.24 313.82,1001.60" fill="#0000ff"/>
<polygon points="331.71,997.36 336.08,1002.00 331.71,1006.64 327.34,1002.00" fill="#0000ff"/>
<polygon points="344.29,995.66 348.66,1000.30 344.29,1004.94 339.93,1000.30" fill="#0000ff"/>
<polygon points="356.07,995.26 360.43,999.90 356.07,1004.54 351.70,999.90" fill="#0000ff"/>
<polygon points="377.55,996.96 381.92,1001.60 377.55,1006.24 373.18,1001.60" fill="#0000ff"/>
<polygon points="396.77,996.36 401.14,1001.00 396.77,1005.64 392.40,1001.00" fill="#0000ff"/>
<polygon points="437.47,997.86 441.84,1002.50 437.47,1007.14 433.10,1002.50" fill="#0000ff"/>
</g>
<g clip-path="url(#cb0)">
<path d="M103.20,1001.30L127.90,1004.12M127.90,1004.12L144.63,1001.19M144.63,1001.19L151.06,996.53M151.06,996.53L154.53,993.38M154.53,993.38L157.94,993.20M157.94,993.20L161.29,990.92M161.29,990.92L164.57,991.67M164.57,991.67L167.80,990.77M167.80,990.77L170.97,992.04M170.97,992.04L174.09,991.89M174.09,991.89L177.16,994.55M177.16,994.55L180.17,994.64M180.17,994.64L183.14,997.37M183.14,997.37L186.06,996.68M186.06,996.68L188.93,998.77M188.93,998.77L191.76,997.44M191.76,997.44L194.54,999.13M194.54,999.13L197.29,997.42M197.29,997.42L199.99,998.25M199.99,998.25L202.65,996.00M202.65,996.00L205.28,997.30M205.28,997.30L207.86,995.32M207.86,995.32L210.41,996.73M210.41,996.73L212.93,995.18M212.93,995.18L215.41,996.94M215.41,996.94L217.86,995.87M217.86,995.87L220.28,997.85M220.28,997.85L225.01,998.36M225.01,998.36L229.63,1001.14M229.63,1001.14L238.53,999.52M238.53,999.52L247.02,1001.00M247.02,1001.00L259.05,1001.60M259.05,1001.60L273.95,1002.00M273.95,1002.00L287.72,998.80M287.72,998.80L303.59,996.60M303.59,996.60L318.19,996.20M318.19,996.20L331.71,998.10M331.71,998.10L344.29,996.20M344.29,996.20L356.07,996.20M356.07,996.20L377.55,998.10M377.55,998.10L396.77,1000.30M396.77,1000.30L437.47,1001.00" stroke="#000080" stroke-width="2.0" fill="none" stroke-linecap="round" stroke-linejoin="round"/>
<polygon points="103.20,996.00 104.45,999.58 108.24,999.66 105.22,1001.96 106.32,1005.59 103.20,1003.42 100.08,1005.59 101.18,1001.96 98.16,999.66 101.95,999.58" fill="#000080"/>
<polygon points="127.90,998.81 129.15,1002.40 132.94,1002.48 129.92,1004.77 131.02,1008.41 127.90,1006.24 124.78,1008.41 125.88,1004.77 122.85,1002.48 126.65,1002.40" fill="#000080"/>
<polygon points="144.63,995.89 145.88,999.48 149.67,999.55 146.65,1001.85 147.75,1005.48 144.63,1003.31 141.51,1005.48 142.61,1001.85 139.59,999.55 143.38,999.48" fill="#000080"/>
<polygon points="151.06,991.23 152.30,994.82 156.10,994.89 153.07,997.19 154.17,1000.82 151.06,998.65 147.94,1000.82 149.04,997.19 146.01,994.89 149.81,994.82" fill="#000080"/>
<polygon points="154.53,988.08 155.78,991.67 159.58,991.75 156.55,994.04 157.65,997.68 154.53,995.51 151.41,997.68 152.51,994.04 149.49,991.75 153.28,991.67" fill="#000080"/>
<polygon points="157.94,987.90 159.19,991.48 162.98,991.56 159.96,993.86 161.06,997.49 157.94,995.32 154.82,997.49 155.92,993.86 152.90,991.56 156.69,991.48" fill="#000080"/>
<polygon points="161.29,985.62 162.53,989.20 166.33,989.28 163.30,991.58 164.40,995.21 161.29,993.04 158.17,995.21 159.27,991.58 156.24,989.28 160.04,989.20" fill="#000080"/>
<polygon points="164.57,986.37 165.82,989.96 169.62,990.04 166.59,992.33 167.69,995.97 164.57,993.80 161.46,995.97 162.56,992.33 159.53,990.04 163.33,989.96" fill="#000080"/>
<polygon points="167.80,985.46 169.05,989.05 172.85,989.13 169.82,991.42 170.92,995.06 167.80,992.89 164.68,995.06 165.78,991.42 162.76,989.13 166.56,989.05" fill="#000080"/>
<polygon points="170.97,986.73 172.22,990.32 176.02,990.40 172.99,992.69 174.09,996.33 170.97,994.16 167.86,996.33 168.96,992.69 165.93,990.40 169.73,990.32" fill="#000080"/>
<polygon points="174.09,986.59 175.34,990.17 179.14,990.25 176.11,992.55 177.21,996.18 174.09,994.01 170.98,996.18 172.07,992.55 169.05,990.25 172.85,990.17" fill="#000080"/>
<polygon points="177.16,989.25 178.41,992.83 182.20,992.91 179.18,995.20 180.28,998.84 177.16,996.67 174.04,998.84 175.14,995.20 172.11,992.91 175.91,992.83" fill="#000080"/>
<polygon points="180.17,989.34 181.42,992.93 185.22,993.01 182.19,995.30 183.29,998.94 180.17,996.77 177.06,998.94 178.16,995.30 175.13,993.01 178.93,992.93" fill="#000080"/>
<polygon points="183.14,992.06 184.39,995.65 188.18,995.73 185.16,998.02 186.26,1001.66 183.14,999.49 180.02,1001.66 181.12,998.02 178.09,995.73 181.89,995.65" fill="#000080"/>
<polygon points="186.06,991.38 187.30,994.96 191.10,995.04 188.08,997.33 189.18,1000.97 186.06,998.80 182.94,1000.97 184.04,997.33 181.01,995.04 184.81,994.96" fill="#000080"/>
<polygon points="188.93,993.47 190.18,997.06 193.97,997.13 190.95,999.43 192.05,1003.06 188.93,1000.90 185.81,1003.06 186.91,999.43 183.89,997.13 187.68,997.06" fill="#000080"/>
<polygon points="191.76,992.13 193.01,995.72 196.80,995.80 193.78,998.09 194.88,1001.73 191.76,999.56 188.64,1001.73 189.74,998.09 186.71,995.80 190.51,995.72" fill="#000080"/>
<polygon points="194.54,993.83 195.79,997.42 199.59,997.49 196.56,999.79 197.66,1003.42 194.54,1001.26 191.43,1003.42 192.53,999.79 189.50,997.49 193.30,997.42" fill="#000080"/>
<polygon points="197.29,992.12 198.53,995.70 202.33,995.78 199.30,998.08 200.40,1001.71 197.29,999.54 194.17,1001.71 195.27,998.08 192.24,995.78 196.04,995.70" fill="#000080"/>
<polygon points="199.99,992.94 201.24,996.53 205.03,996.61 202.01,998.90 203.11,1002.54 199.99,1000.37 196.87,1002.54 197.97,998.90 194.94,996.61 198.74,996.53" fill="#000080"/>
<polygon points="202.65,990.69 203.90,994.28 207.70,994.36 204.67,996.65 205.77,1000.29 202.65,998.12 199.53,1000.29 200.63,996.65 197.61,994.36 201.40,994.28" fill="#000080"/>
<polygon points="205.28,992.00 206.52,995.59 210.32,995.66 207.29,997.96 208.39,1001.59 205.28,999.42 202.16,1001.59 203.26,997.96 200.23,995.66 204.03,995.59" fill="#000080"/>
<polygon points="207.86,990.01 209.11,993.60 212.91,993.68 209.88,995.97 210.98,999.61 207.86,997.44 204.75,999.61 205.85,995.97 202.82,993.68 206.62,993.60" fill="#000080"/>
<polygon points="210.41,991.43 211.66,995.02 215.46,995.10 212.43,997.39 213.53,1001.03 210.41,998.86 207.30,1001.03 208.40,997.39 205.37,995.10 209.17,995.02" fill="#000080"/>
<polygon points="212.93,989.88 214.18,993.47 217.97,993.54 214.95,995.84 216.05,999.47 212.93,997.30 209.81,999.47 210.91,995.84 207.89,993.54 211.68,993.47" fill="#000080"/>
<polygon points="215.41,991.63 216.66,995.22 220.46,995.30 217.43,997.59 218.53,1001.23 215.41,999.06 212.29,1001.23 213.39,997.59 210.37,995.30 214.17,995.22" fill="#000080"/>
<polygon points="217.86,990.57 219.11,994.16 222.90,994.23 219.88,996.53 220.98,1000.16 217.86,998.00 214.74,1000.16 215.84,996.53 212.82,994.23 216.61,994.16" fill="#000080"/>
<polygon points="220.28,992.54 221.52,996.13 225.32,996.21 222.29,998.50 223.39,1002.14 220.28,999.97 217.16,1002.14 218.26,998.50 215.23,996.21 219.03,996.13" fill="#000080"/>
<polygon points="225.01,993.06 226.26,996.64 230.06,996.72 227.03,999.02 228.13,1002.65 225.01,1000.48 221.90,1002.65 223.00,999.02 219.97,996.72 223.77,996.64" fill="#000080"/>
<polygon points="229.63,995.84 230.88,999.43 234.68,999.51 231.65,1001.80 232.75,1005.44 229.63,1003.27 226.51,1005.44 227.61,1001.80 224.59,999.51 228.39,999.43" fill="#000080"/>
<polygon points="238.53,994.21 239.78,997.80 243.58,997.88 240.55,1000.17 241.65,1003.81 238.53,1001.64 235.41,1003.81 236.51,1000.17 233.49,997.88 237.29,997.80" fill="#000080"/>
<polygon points="247.02,995.70 248.26,999.28 252.06,999.36 249.04,1001.66 250.14,1005.29 247.02,1003.12 243.90,1005.29 245.00,1001.66 241.97,999.36 245.77,999.28" fill="#000080"/>
<polygon points="259.05,996.30 260.30,999.88 264.09,999.96 261.07,1002.26 262.17,1005.89 259.05,1003.72 255.93,1005.89 257.03,1002.26 254.00,999.96 257.80,999.88" fill="#000080"/>
<polygon points="273.95,996.70 275.19,1000.28 278.99,1000.36 275.96,1002.66 277.06,1006.29 273.95,1004.12 270.83,1006.29 271.93,1002.66 268.90,1000.36 272.70,1000.28" fill="#000080"/>
<polygon points="287.72,993.50 288.97,997.08 292.76,997.16 289.74,999.46 290.84,1003.09 287.72,1000.92 284.60,1003.09 285.70,999.46 282.68,997.16 286.47,997.08" fill="#000080"/>
<polygon points="303.59,991.30 304.84,994.88 308.64,994.96 305.61,997.26 306.71,1000.89 303.59,998.72 300.47,1000.89 301.57,997.26 298.55,994.96 302.34,994.88" fill="#000080"/>
<polygon points="318.19,990.90 319.44,994.48 323.24,994.56 320.21,996.86 321.31,1000.49 318.19,998.32 315.07,1000.49 316.17,996.86 313.15,994.56 316.94,994.48" fill="#000080"/>
<polygon points="331.71,992.80 332.96,996.38 336.75,996.46 333.73,998.76 334.83,1002.39 331.71,1000.22 328.59,1002.39 329.69,998.76 326.66,996.46 330.46,996.38" fill="#000080"/>
<polygon points="344.29,990.90 345.54,994.48 349.34,994.56 346.31,996.86 347.41,1000.49 344.29,998.32 341.18,1000.49 342.28,996.86 339.25,994.56 343.05,994.48" fill="#000080"/>
<polygon points="356.07,990.90 357.31,994.48 361.11,994.56 358.08,996.86 359.18,1000.49 356.07,998.32 352.95,1000.49 354.05,996.86 351.02,994.56 354.82,994.48" fill="#000080"/>
<polygon points="377.55,992.80 378.80,996.38 382.59,996.46 379.57,998.76 380.67,1002.39 377.55,1000.22 374.43,1002.39 375.53,998.76 372.50,996.46 376.30,996.38" fill="#000080"/>
<polygon points="396.77,995.00 398.01,998.58 401.81,998.66 398.79,1000.96 399.89,1004.59 396.77,1002.42 393.65,1004.59 394.75,1000.96 391.72,998.66 395.52,998.58" fill="#000080"/>
<polygon points="437.47,995.70 438.72,999.28 442.51,999.36 439.49,1001.66 440.59,1005.29 437.47,1003.12 434.35,1005.29 435.45,1001.66 432.43,999.36 436.22,999.28" fill="#000080"/>
</g>
<g clip-path="url(#ct1)">
<path d="M477.39,651.16L490.09,651.66M503.52,653.39L504.66,653.64M520.13,671.26L520.26,671.76M632.95,797.25L634.85,797.84M647.92,801.57L648.54,801.74M661.71,805.15L664.40,805.84M677.78,807.85L678.80,807.90M692.08,810.25L692.62,810.42M730.26,819.16L738.15,819.40M751.75,819.82L757.37,819.99M770.97,820.16L798.07,820.03" stroke="#ff8000" stroke-width="2.2" fill="none" stroke-linecap="round" stroke-linejoin="round"/>
<circle cx="470.60" cy="650.90" r="4.60" fill="#ff8000"/>
<circle cx="496.88" cy="651.92" r="4.60" fill="#ff8000"/>
<circle cx="511.30" cy="655.10" r="4.60" fill="#ff8000"/>
<circle cx="518.46" cy="664.67" r="4.60" fill="#ff8000"/>
<circle cx="521.93" cy="678.36" r="4.60" fill="#ff8000"/>
<circle cx="525.34" cy="684.49" r="4.60" fill="#ff8000"/>
<circle cx="528.69" cy="691.13" r="4.60" fill="#ff8000"/>
<circle cx="531.97" cy="703.43" r="4.60" fill="#ff8000"/>
<circle cx="535.20" cy="712.87" r="4.60" fill="#ff8000"/>
<circle cx="538.37" cy="723.38" r="4.60" fill="#ff8000"/>
<circle cx="541.49" cy="734.93" r="4.60" fill="#ff8000"/>
<circle cx="544.56" cy="740.61" r="4.60" fill="#ff8000"/>
<circle cx="547.57" cy="744.37" r="4.60" fill="#ff8000"/>
<circle cx="550.54" cy="747.34" r="4.60" fill="#ff8000"/>
<circle cx="554.04" cy="750.84" r="4.60" fill="#ff8000"/>
<circle cx="557.47" cy="754.22" r="4.60" fill="#ff8000"/>
<circle cx="560.83" cy="757.01" r="4.60" fill="#ff8000"/>
<circle cx="564.14" cy="759.66" r="4.60" fill="#ff8000"/>
<circle cx="567.39" cy="762.11" r="4.60" fill="#ff8000"/>
<circle cx="571.11" cy="764.95" r="4.60" fill="#ff8000"/>
<circle cx="574.75" cy="768.12" r="4.60" fill="#ff8000"/>
<circle cx="578.32" cy="771.23" r="4.60" fill="#ff8000"/>
<circle cx="582.32" cy="774.25" r="4.60" fill="#ff8000"/>
<circle cx="586.23" cy="777.18" r="4.60" fill="#ff8000"/>
<circle cx="590.06" cy="779.38" r="4.60" fill="#ff8000"/>
<circle cx="597.03" cy="783.31" r="4.60" fill="#ff8000"/>
<circle cx="605.93" cy="786.39" r="4.60" fill="#ff8000"/>
<circle cx="614.42" cy="789.71" r="4.60" fill="#ff8000"/>
<circle cx="626.45" cy="795.24" r="4.60" fill="#ff8000"/>
<circle cx="641.35" cy="799.84" r="4.60" fill="#ff8000"/>
<circle cx="655.12" cy="803.47" r="4.60" fill="#ff8000"/>
<circle cx="670.99" cy="807.52" r="4.60" fill="#ff8000"/>
<circle cx="685.59" cy="808.22" r="4.60" fill="#ff8000"/>
<circle cx="699.11" cy="812.44" r="4.60" fill="#ff8000"/>
<circle cx="711.69" cy="815.06" r="4.60" fill="#ff8000"/>
<circle cx="723.47" cy="818.96" r="4.60" fill="#ff8000"/>
<circle cx="744.95" cy="819.61" r="4.60" fill="#ff8000"/>
<circle cx="764.17" cy="820.20" r="4.60" fill="#ff8000"/>
<circle cx="804.87" cy="820.00" r="4.60" fill="#ff8000"/>
</g>
<g clip-path="url(#ct1)">
<path d="M477.40,695.76L490.09,695.31M502.21,699.29L505.97,702.28M514.77,712.35L514.99,712.71M632.82,798.66L634.98,799.46M647.90,803.66L648.57,803.85M661.71,807.34L664.40,808.03M677.64,811.13L678.94,811.41M730.26,820.89L738.15,821.06M751.75,821.27L757.37,821.33M770.97,821.33L798.07,821.07" stroke="#008000" stroke-width="2.2" fill="none" stroke-linecap="round" stroke-linejoin="round"/>
<polygon points="470.60,689.40 464.88,699.30 476.32,699.30" fill="#008000"/>
<polygon points="496.88,688.47 491.17,698.37 502.60,698.37" fill="#008000"/>
<polygon points="511.30,699.90 505.59,709.80 517.02,709.80" fill="#008000"/>
<polygon points="518.46,711.96 512.74,721.86 524.17,721.86" fill="#008000"/>
<polygon points="521.93,722.11 516.22,732.01 527.65,732.01" fill="#008000"/>
<polygon points="525.34,730.98 519.62,740.88 531.06,740.88" fill="#008000"/>
<polygon points="528.69,737.98 522.97,747.88 534.40,747.88" fill="#008000"/>
<polygon points="531.97,743.81 526.26,753.71 537.69,753.71" fill="#008000"/>
<polygon points="535.20,748.29 529.49,758.19 540.92,758.19" fill="#008000"/>
<polygon points="538.37,750.98 532.66,760.88 544.09,760.88" fill="#008000"/>
<polygon points="541.49,753.06 535.78,762.96 547.21,762.96" fill="#008000"/>
<polygon points="544.56,754.56 538.84,764.46 550.27,764.46" fill="#008000"/>
<polygon points="547.57,755.99 541.86,765.89 553.29,765.89" fill="#008000"/>
<polygon points="550.54,757.48 544.82,767.38 556.25,767.38" fill="#008000"/>
<polygon points="553.46,759.11 547.74,769.01 559.17,769.01" fill="#008000"/>
<polygon points="556.33,760.71 550.61,770.61 562.05,770.61" fill="#008000"/>
<polygon points="559.16,762.22 553.44,772.12 564.87,772.12" fill="#008000"/>
<polygon points="561.94,763.66 556.23,773.56 567.66,773.56" fill="#008000"/>
<polygon points="564.69,765.09 558.97,774.99 570.40,774.99" fill="#008000"/>
<polygon points="567.39,766.49 561.67,776.39 573.10,776.39" fill="#008000"/>
<polygon points="570.05,767.88 564.34,777.78 575.77,777.78" fill="#008000"/>
<polygon points="572.68,769.24 566.96,779.14 578.39,779.14" fill="#008000"/>
<polygon points="575.26,770.58 569.55,780.48 580.98,780.48" fill="#008000"/>
<polygon points="577.81,771.91 572.10,781.81 583.53,781.81" fill="#008000"/>
<polygon points="580.33,773.21 574.61,783.11 586.05,783.11" fill="#008000"/>
<polygon points="582.81,774.34 577.10,784.24 588.53,784.24" fill="#008000"/>
<polygon points="585.26,775.45 579.54,785.35 590.98,785.35" fill="#008000"/>
<polygon points="587.68,776.55 581.96,786.45 593.39,786.45" fill="#008000"/>
<polygon points="590.06,777.43 584.35,787.33 595.78,787.33" fill="#008000"/>
<polygon points="597.03,779.91 591.32,789.81 602.75,789.81" fill="#008000"/>
<polygon points="605.93,782.76 600.22,792.66 611.65,792.66" fill="#008000"/>
<polygon points="614.42,784.97 608.70,794.87 620.13,794.87" fill="#008000"/>
<polygon points="626.45,789.68 620.73,799.58 632.16,799.58" fill="#008000"/>
<polygon points="641.35,795.24 635.63,805.14 647.06,805.14" fill="#008000"/>
<polygon points="655.12,799.07 649.40,808.97 660.84,808.97" fill="#008000"/>
<polygon points="670.99,803.11 665.28,813.01 676.71,813.01" fill="#008000"/>
<polygon points="685.59,806.24 679.88,816.14 691.31,816.14" fill="#008000"/>
<polygon points="699.11,807.64 693.39,817.54 704.82,817.54" fill="#008000"/>
<polygon points="711.69,809.97 705.98,819.87 717.41,819.87" fill="#008000"/>
<polygon points="723.47,814.15 717.75,824.05 729.18,824.05" fill="#008000"/>
<polygon points="744.95,814.60 739.23,824.50 750.66,824.50" fill="#008000"/>
<polygon points="764.17,814.79 758.45,824.69 769.88,824.69" fill="#008000"/>
<polygon points="804.87,814.40 799.15,824.30 810.59,824.30" fill="#008000"/>
</g>
<g clip-path="url(#ct1)">
<path d="M477.40,742.97L490.09,743.28M502.79,746.83L505.40,748.32M633.15,802.27L634.64,802.52M647.84,805.67L648.63,805.92M661.84,809.02L664.28,809.41M677.71,811.52L678.87,811.70M730.26,819.64L738.15,819.72M751.75,819.73L757.37,819.67M770.97,819.67L798.07,819.93" stroke="#0000ff" stroke-width="2.2" fill="none" stroke-linecap="round" stroke-linejoin="round"/>
<polygon points="470.60,736.85 476.20,742.80 470.60,748.75 465.00,742.80" fill="#0000ff"/>
<polygon points="496.88,737.50 502.48,743.45 496.88,749.40 491.28,743.45" fill="#0000ff"/>
<polygon points="511.30,745.75 516.90,751.70 511.30,757.65 505.70,751.70" fill="#0000ff"/>
<polygon points="518.46,752.73 524.06,758.68 518.46,764.63 512.86,758.68" fill="#0000ff"/>
<polygon points="521.93,759.74 527.53,765.69 521.93,771.64 516.33,765.69" fill="#0000ff"/>
<polygon points="525.34,766.10 530.94,772.05 525.34,778.00 519.74,772.05" fill="#0000ff"/>
<polygon points="528.69,770.41 534.29,776.36 528.69,782.31 523.09,776.36" fill="#0000ff"/>
<polygon points="531.97,772.66 537.57,778.61 531.97,784.56 526.37,778.61" fill="#0000ff"/>
<polygon points="535.20,774.50 540.80,780.45 535.20,786.40 529.60,780.45" fill="#0000ff"/>
<polygon points="538.37,775.70 543.97,781.65 538.37,787.60 532.77,781.65" fill="#0000ff"/>
<polygon points="541.49,776.87 547.09,782.82 541.49,788.77 535.89,782.82" fill="#0000ff"/>
<polygon points="544.56,777.80 550.16,783.75 544.56,789.70 538.96,783.75" fill="#0000ff"/>
<polygon points="547.57,778.71 553.17,784.66 547.57,790.61 541.97,784.66" fill="#0000ff"/>
<polygon points="550.54,779.59 556.14,785.54 550.54,791.49 544.94,785.54" fill="#0000ff"/>
<polygon points="553.46,780.47 559.06,786.42 553.46,792.37 547.86,786.42" fill="#0000ff"/>
<polygon points="556.33,781.34 561.93,787.29 556.33,793.24 550.73,787.29" fill="#0000ff"/>
<polygon points="559.16,782.19 564.76,788.14 559.16,794.09 553.56,788.14" fill="#0000ff"/>
<polygon points="561.94,782.93 567.54,788.88 561.94,794.83 556.34,788.88" fill="#0000ff"/>
<polygon points="564.69,783.47 570.29,789.42 564.69,795.37 559.09,789.42" fill="#0000ff"/>
<polygon points="567.39,784.00 572.99,789.95 567.39,795.90 561.79,789.95" fill="#0000ff"/>
<polygon points="570.05,784.52 575.65,790.47 570.05,796.42 564.45,790.47" fill="#0000ff"/>
<polygon points="572.68,785.04 578.28,790.99 572.68,796.94 567.08,790.99" fill="#0000ff"/>
<polygon points="575.26,785.55 580.86,791.50 575.26,797.45 569.66,791.50" fill="#0000ff"/>
<polygon points="577.81,786.06 583.41,792.01 577.81,797.96 572.21,792.01" fill="#0000ff"/>
<polygon points="580.33,786.56 585.93,792.51 580.33,798.46 574.73,792.51" fill="#0000ff"/>
<polygon points="582.81,786.96 588.41,792.91 582.81,798.86 577.21,792.91" fill="#0000ff"/>
<polygon points="585.26,787.37 590.86,793.32 585.26,799.27 579.66,793.32" fill="#0000ff"/>
<polygon points="587.68,787.77 593.28,793.72 587.68,799.67 582.08,793.72" fill="#0000ff"/>
<polygon points="590.06,788.16 595.66,794.11 590.06,800.06 584.46,794.11" fill="#0000ff"/>
<polygon points="597.03,789.49 602.63,795.44 597.03,801.39 591.43,795.44" fill="#0000ff"/>
<polygon points="605.93,790.68 611.53,796.63 605.93,802.58 600.33,796.63" fill="#0000ff"/>
<polygon points="614.42,791.79 620.02,797.74 614.42,803.69 608.82,797.74" fill="#0000ff"/>
<polygon points="626.45,795.19 632.05,801.14 626.45,807.09 620.85,801.14" fill="#0000ff"/>
<polygon points="641.35,797.70 646.95,803.65 641.35,809.60 635.75,803.65" fill="#0000ff"/>
<polygon points="655.12,802.00 660.72,807.95 655.12,813.90 649.52,807.95" fill="#0000ff"/>
<polygon points="670.99,804.53 676.59,810.48 670.99,816.43 665.39,810.48" fill="#0000ff"/>
<polygon points="685.59,806.78 691.19,812.73 685.59,818.68 679.99,812.73" fill="#0000ff"/>
<polygon points="699.11,807.99 704.71,813.94 699.11,819.89 693.51,813.94" fill="#0000ff"/>
<polygon points="711.69,810.30 717.29,816.25 711.69,822.20 706.09,816.25" fill="#0000ff"/>
<polygon points="723.47,813.61 729.07,819.56 723.47,825.51 717.87,819.56" fill="#0000ff"/>
<polygon points="744.95,813.85 750.55,819.80 744.95,825.75 739.35,819.80" fill="#0000ff"/>
<polygon points="764.17,813.66 769.77,819.61 764.17,825.56 758.57,819.61" fill="#0000ff"/>
<polygon points="804.87,814.05 810.47,820.00 804.87,825.95 799.27,820.00" fill="#0000ff"/>
</g>
<g clip-path="url(#ct1)">
<path d="M477.38,781.82L490.10,782.81M503.26,785.70L504.93,786.33M633.21,804.31L634.59,804.47M648.01,806.57L648.45,806.66M661.84,809.05L664.27,809.43M677.71,811.52L678.87,811.70M730.27,819.97L738.15,819.98M751.74,819.61L757.38,819.29M770.96,819.10L798.07,819.82" stroke="#000080" stroke-width="2.2" fill="none" stroke-linecap="round" stroke-linejoin="round"/>
<polygon points="470.60,774.50 472.20,779.10 477.07,779.20 473.19,782.14 474.60,786.80 470.60,784.02 466.60,786.80 468.01,782.14 464.13,779.20 469.00,779.10" fill="#000080"/>
<polygon points="496.88,776.53 498.48,781.13 503.35,781.23 499.47,784.17 500.88,788.83 496.88,786.05 492.89,788.83 494.30,784.17 490.42,781.23 495.29,781.13" fill="#000080"/>
<polygon points="511.30,781.90 512.90,786.50 517.77,786.60 513.89,789.54 515.30,794.20 511.30,791.42 507.31,794.20 508.72,789.54 504.84,786.60 509.70,786.50" fill="#000080"/>
<polygon points="518.46,783.75 520.05,788.35 524.92,788.45 521.04,791.39 522.45,796.05 518.46,793.27 514.46,796.05 515.87,791.39 511.99,788.45 516.86,788.35" fill="#000080"/>
<polygon points="521.93,784.65 523.53,789.25 528.40,789.35 524.52,792.29 525.93,796.95 521.93,794.17 517.93,796.95 519.34,792.29 515.46,789.35 520.33,789.25" fill="#000080"/>
<polygon points="525.34,785.66 526.94,790.26 531.81,790.36 527.93,793.30 529.34,797.96 525.34,795.18 521.34,797.96 522.75,793.30 518.87,790.36 523.74,790.26" fill="#000080"/>
<polygon points="528.69,786.67 530.29,791.27 535.15,791.37 531.27,794.31 532.68,798.97 528.69,796.19 524.69,798.97 526.10,794.31 522.22,791.37 527.09,791.27" fill="#000080"/>
<polygon points="531.97,787.66 533.57,792.26 538.44,792.36 534.56,795.30 535.97,799.96 531.97,797.18 527.98,799.96 529.39,795.30 525.51,792.36 530.37,792.26" fill="#000080"/>
<polygon points="535.20,788.31 536.80,792.91 541.67,793.01 537.79,795.95 539.20,800.62 535.20,797.83 531.21,800.62 532.62,795.95 528.74,793.01 533.60,792.91" fill="#000080"/>
<polygon points="538.37,788.94 539.97,793.54 544.84,793.64 540.96,796.58 542.37,801.24 538.37,798.46 534.38,801.24 535.79,796.58 531.91,793.64 536.78,793.54" fill="#000080"/>
<polygon points="541.49,789.56 543.09,794.16 547.96,794.26 544.08,797.20 545.49,801.86 541.49,799.08 537.50,801.86 538.91,797.20 535.03,794.26 539.89,794.16" fill="#000080"/>
<polygon points="544.56,790.16 546.16,794.76 551.03,794.86 547.15,797.80 548.56,802.46 544.56,799.68 540.56,802.46 541.97,797.80 538.09,794.86 542.96,794.76" fill="#000080"/>
<polygon points="547.57,790.75 549.17,795.35 554.04,795.45 550.16,798.39 551.57,803.05 547.57,800.27 543.58,803.05 544.99,798.39 541.11,795.45 545.97,795.35" fill="#000080"/>
<polygon points="550.54,791.33 552.14,795.93 557.01,796.03 553.13,798.97 554.54,803.63 550.54,800.85 546.54,803.63 547.95,798.97 544.07,796.03 548.94,795.93" fill="#000080"/>
<polygon points="553.46,791.91 555.06,796.51 559.93,796.61 556.04,799.55 557.45,804.21 553.46,801.43 549.46,804.21 550.87,799.55 546.99,796.61 551.86,796.51" fill="#000080"/>
<polygon points="556.33,792.48 557.93,797.08 562.80,797.17 558.92,800.12 560.33,804.78 556.33,802.00 552.33,804.78 553.74,800.12 549.86,797.17 554.73,797.08" fill="#000080"/>
<polygon points="559.16,793.04 560.76,797.63 565.63,797.73 561.75,800.68 563.16,805.34 559.16,802.56 555.16,805.34 556.57,800.68 552.69,797.73 557.56,797.63" fill="#000080"/>
<polygon points="561.94,793.56 563.54,798.16 568.41,798.25 564.53,801.20 565.94,805.86 561.94,803.08 557.95,805.86 559.36,801.20 555.48,798.25 560.34,798.16" fill="#000080"/>
<polygon points="564.69,794.01 566.28,798.61 571.15,798.71 567.27,801.65 568.68,806.31 564.69,803.53 560.69,806.31 562.10,801.65 558.22,798.71 563.09,798.61" fill="#000080"/>
<polygon points="567.39,794.45 568.99,799.05 573.86,799.15 569.98,802.09 571.39,806.76 567.39,803.97 563.39,806.76 564.80,802.09 560.92,799.15 565.79,799.05" fill="#000080"/>
<polygon points="570.05,794.89 571.65,799.49 576.52,799.59 572.64,802.53 574.05,807.19 570.05,804.41 566.05,807.19 567.46,802.53 563.58,799.59 568.45,799.49" fill="#000080"/>
<polygon points="572.68,795.19 574.27,799.78 579.14,799.88 575.26,802.83 576.67,807.49 572.68,804.71 568.68,807.49 570.09,802.83 566.21,799.88 571.08,799.78" fill="#000080"/>
<polygon points="575.26,795.43 576.86,800.03 581.73,800.13 577.85,803.07 579.26,807.73 575.26,804.95 571.27,807.73 572.68,803.07 568.80,800.13 573.66,800.03" fill="#000080"/>
<polygon points="577.81,795.67 579.41,800.27 584.28,800.37 580.40,803.31 581.81,807.97 577.81,805.19 573.82,807.97 575.23,803.31 571.35,800.37 576.22,800.27" fill="#000080"/>
<polygon points="580.33,795.90 581.93,800.50 586.80,800.60 582.92,803.54 584.33,808.20 580.33,805.42 576.33,808.20 577.74,803.54 573.86,800.60 578.73,800.50" fill="#000080"/>
<polygon points="582.81,796.00 584.41,800.60 589.28,800.70 585.40,803.64 586.81,808.30 582.81,805.52 578.82,808.30 580.23,803.64 576.34,800.70 581.21,800.60" fill="#000080"/>
<polygon points="585.26,796.10 586.86,800.70 591.73,800.80 587.85,803.75 589.26,808.41 585.26,805.62 581.26,808.41 582.67,803.75 578.79,800.80 583.66,800.70" fill="#000080"/>
<polygon points="587.68,796.20 589.28,800.80 594.14,800.90 590.26,803.84 591.67,808.51 587.68,805.72 583.68,808.51 585.09,803.84 581.21,800.90 586.08,800.80" fill="#000080"/>
<polygon points="590.06,796.30 591.66,800.90 596.53,801.00 592.65,803.94 594.06,808.60 590.06,805.82 586.06,808.60 587.47,803.94 583.59,801.00 588.46,800.90" fill="#000080"/>
<polygon points="597.03,796.24 598.63,800.84 603.50,800.94 599.62,803.88 601.03,808.54 597.03,805.76 593.04,808.54 594.45,803.88 590.57,800.94 595.43,800.84" fill="#000080"/>
<polygon points="605.93,794.72 607.53,799.32 612.40,799.42 608.52,802.36 609.93,807.02 605.93,804.24 601.94,807.02 603.35,802.36 599.46,799.42 604.33,799.32" fill="#000080"/>
<polygon points="614.42,795.55 616.02,800.15 620.88,800.25 617.00,803.19 618.41,807.85 614.42,805.07 610.42,807.85 611.83,803.19 607.95,800.25 612.82,800.15" fill="#000080"/>
<polygon points="626.45,796.75 628.05,801.34 632.92,801.44 629.04,804.39 630.45,809.05 626.45,806.27 622.45,809.05 623.86,804.39 619.98,801.44 624.85,801.34" fill="#000080"/>
<polygon points="641.35,798.43 642.95,803.03 647.81,803.13 643.93,806.07 645.34,810.73 641.35,807.95 637.35,810.73 638.76,806.07 634.88,803.13 639.75,803.03" fill="#000080"/>
<polygon points="655.12,801.20 656.72,805.80 661.59,805.90 657.71,808.84 659.12,813.50 655.12,810.72 651.12,813.50 652.53,808.84 648.65,805.90 653.52,805.80" fill="#000080"/>
<polygon points="670.99,803.68 672.59,808.28 677.46,808.38 673.58,811.32 674.99,815.98 670.99,813.20 666.99,815.98 668.40,811.32 664.52,808.38 669.39,808.28" fill="#000080"/>
<polygon points="685.59,805.93 687.19,810.53 692.06,810.63 688.18,813.57 689.59,818.24 685.59,815.45 681.59,818.24 683.00,813.57 679.12,810.63 683.99,810.53" fill="#000080"/>
<polygon points="699.11,807.14 700.71,811.74 705.58,811.84 701.70,814.78 703.11,819.44 699.11,816.66 695.11,819.44 696.52,814.78 692.64,811.84 697.51,811.74" fill="#000080"/>
<polygon points="711.69,809.46 713.29,814.06 718.16,814.16 714.28,817.10 715.69,821.76 711.69,818.98 707.70,821.76 709.11,817.10 705.23,814.16 710.09,814.06" fill="#000080"/>
<polygon points="723.47,813.16 725.06,817.76 729.93,817.86 726.05,820.80 727.46,825.46 723.47,822.68 719.47,825.46 720.88,820.80 717.00,817.86 721.87,817.76" fill="#000080"/>
<polygon points="744.95,813.19 746.55,817.79 751.42,817.88 747.54,820.83 748.95,825.49 744.95,822.71 740.95,825.49 742.36,820.83 738.48,817.88 743.35,817.79" fill="#000080"/>
<polygon points="764.17,812.11 765.77,816.71 770.63,816.81 766.75,819.75 768.16,824.42 764.17,821.63 760.17,824.42 761.58,819.75 757.70,816.81 762.57,816.71" fill="#000080"/>
<polygon points="804.87,813.20 806.47,817.80 811.34,817.90 807.46,820.84 808.87,825.50 804.87,822.72 800.87,825.50 802.28,820.84 798.40,817.90 803.27,817.80" fill="#000080"/>
</g>
<g clip-path="url(#ct1)">
<path d="M477.40,815.83L490.09,816.07M503.67,816.67L504.52,816.73M633.25,819.36L634.55,819.36M661.90,818.93L664.21,819.10M677.79,819.65L678.79,819.66M730.27,819.90L738.15,819.92M751.75,819.96L757.37,819.98M770.97,820.00L798.07,820.00" stroke="#8000ff" stroke-width="2.2" fill="none" stroke-linecap="round" stroke-linejoin="round"/>
<polygon points="470.60,810.40 475.19,813.05 475.19,818.35 470.60,821.00 466.01,818.35 466.01,813.05" fill="#8000ff"/>
<polygon points="496.88,810.91 501.47,813.56 501.47,818.86 496.88,821.51 492.29,818.86 492.29,813.56" fill="#8000ff"/>
<polygon points="511.30,811.90 515.89,814.55 515.89,819.85 511.30,822.50 506.71,819.85 506.71,814.55" fill="#8000ff"/>
<polygon points="518.46,812.28 523.05,814.93 523.05,820.23 518.46,822.88 513.87,820.23 513.87,814.93" fill="#8000ff"/>
<polygon points="521.93,812.47 526.52,815.12 526.52,820.42 521.93,823.07 517.34,820.42 517.34,815.12" fill="#8000ff"/>
<polygon points="525.34,812.65 529.93,815.30 529.93,820.60 525.34,823.25 520.75,820.60 520.75,815.30" fill="#8000ff"/>
<polygon points="528.69,812.83 533.28,815.48 533.28,820.78 528.69,823.43 524.10,820.78 524.10,815.48" fill="#8000ff"/>
<polygon points="531.97,812.94 536.56,815.59 536.56,820.89 531.97,823.54 527.38,820.89 527.38,815.59" fill="#8000ff"/>
<polygon points="535.20,813.00 539.79,815.65 539.79,820.95 535.20,823.60 530.61,820.95 530.61,815.65" fill="#8000ff"/>
<polygon points="538.37,813.07 542.96,815.72 542.96,821.02 538.37,823.67 533.78,821.02 533.78,815.72" fill="#8000ff"/>
<polygon points="541.49,813.13 546.08,815.78 546.08,821.08 541.49,823.73 536.90,821.08 536.90,815.78" fill="#8000ff"/>
<polygon points="544.56,813.19 549.15,815.84 549.15,821.14 544.56,823.79 539.97,821.14 539.97,815.84" fill="#8000ff"/>
<polygon points="547.57,813.25 552.16,815.90 552.16,821.20 547.57,823.85 542.98,821.20 542.98,815.90" fill="#8000ff"/>
<polygon points="550.54,813.31 555.13,815.96 555.13,821.26 550.54,823.91 545.95,821.26 545.95,815.96" fill="#8000ff"/>
<polygon points="553.46,813.37 558.05,816.02 558.05,821.32 553.46,823.97 548.87,821.32 548.87,816.02" fill="#8000ff"/>
<polygon points="556.33,813.43 560.92,816.08 560.92,821.38 556.33,824.03 551.74,821.38 551.74,816.08" fill="#8000ff"/>
<polygon points="559.16,813.48 563.75,816.13 563.75,821.43 559.16,824.08 554.57,821.43 554.57,816.13" fill="#8000ff"/>
<polygon points="561.94,813.52 566.53,816.17 566.53,821.47 561.94,824.12 557.35,821.47 557.35,816.17" fill="#8000ff"/>
<polygon points="564.69,813.55 569.28,816.20 569.28,821.50 564.69,824.15 560.10,821.50 560.10,816.20" fill="#8000ff"/>
<polygon points="567.39,813.57 571.98,816.22 571.98,821.52 567.39,824.17 562.80,821.52 562.80,816.22" fill="#8000ff"/>
<polygon points="570.05,813.60 574.64,816.25 574.64,821.55 570.05,824.20 565.46,821.55 565.46,816.25" fill="#8000ff"/>
<polygon points="572.68,813.63 577.27,816.28 577.27,821.58 572.68,824.23 568.09,821.58 568.09,816.28" fill="#8000ff"/>
<polygon points="575.26,813.65 579.85,816.30 579.85,821.60 575.26,824.25 570.67,821.60 570.67,816.30" fill="#8000ff"/>
<polygon points="577.81,813.68 582.40,816.33 582.40,821.63 577.81,824.28 573.22,821.63 573.22,816.33" fill="#8000ff"/>
<polygon points="580.33,813.70 584.92,816.35 584.92,821.65 580.33,824.30 575.74,821.65 575.74,816.35" fill="#8000ff"/>
<polygon points="582.81,813.73 587.40,816.38 587.40,821.68 582.81,824.33 578.22,821.68 578.22,816.38" fill="#8000ff"/>
<polygon points="585.26,813.75 589.85,816.40 589.85,821.70 585.26,824.35 580.67,821.70 580.67,816.40" fill="#8000ff"/>
<polygon points="587.68,813.78 592.27,816.43 592.27,821.73 587.68,824.38 583.09,821.73 583.09,816.43" fill="#8000ff"/>
<polygon points="590.06,813.80 594.65,816.45 594.65,821.75 590.06,824.40 585.47,821.75 585.47,816.45" fill="#8000ff"/>
<polygon points="597.03,813.87 601.62,816.52 601.62,821.82 597.03,824.47 592.44,821.82 592.44,816.52" fill="#8000ff"/>
<polygon points="605.93,813.93 610.52,816.58 610.52,821.88 605.93,824.53 601.34,821.88 601.34,816.58" fill="#8000ff"/>
<polygon points="614.42,813.97 619.01,816.62 619.01,821.92 614.42,824.57 609.83,821.92 609.83,816.62" fill="#8000ff"/>
<polygon points="626.45,814.03 631.04,816.68 631.04,821.98 626.45,824.63 621.86,821.98 621.86,816.68" fill="#8000ff"/>
<polygon points="641.35,814.09 645.94,816.74 645.94,822.04 641.35,824.69 636.76,822.04 636.76,816.74" fill="#8000ff"/>
<polygon points="655.12,813.13 659.71,815.78 659.71,821.08 655.12,823.73 650.53,821.08 650.53,815.78" fill="#8000ff"/>
<polygon points="670.99,814.30 675.58,816.95 675.58,822.25 670.99,824.90 666.40,822.25 666.40,816.95" fill="#8000ff"/>
<polygon points="685.59,814.40 690.18,817.05 690.18,822.35 685.59,825.00 681.00,822.35 681.00,817.05" fill="#8000ff"/>
<polygon points="699.11,814.49 703.70,817.14 703.70,822.44 699.11,825.09 694.52,822.44 694.52,817.14" fill="#8000ff"/>
<polygon points="711.69,814.54 716.28,817.19 716.28,822.49 711.69,825.14 707.10,822.49 707.10,817.19" fill="#8000ff"/>
<polygon points="723.47,814.57 728.06,817.22 728.06,822.52 723.47,825.17 718.88,822.52 718.88,817.22" fill="#8000ff"/>
<polygon points="744.95,814.64 749.54,817.29 749.54,822.59 744.95,825.24 740.36,822.59 740.36,817.29" fill="#8000ff"/>
<polygon points="764.17,814.70 768.76,817.35 768.76,822.65 764.17,825.30 759.58,822.65 759.58,817.35" fill="#8000ff"/>
<polygon points="804.87,814.70 809.46,817.35 809.46,822.65 804.87,825.30 800.28,822.65 800.28,817.35" fill="#8000ff"/>
</g>
<g clip-path="url(#ct1)">
<path d="M477.36,610.24L490.12,611.63M502.02,616.83L506.17,620.44M514.07,631.12L515.69,634.76M632.18,773.74L635.61,775.93M647.20,783.04L649.26,784.26M661.37,790.40L664.74,791.85M677.56,796.28L679.02,796.67M692.10,800.38L692.60,800.54M705.21,805.51L705.59,805.69M730.08,816.10L738.33,818.04M751.75,819.74L757.37,819.86M770.97,820.00L798.07,820.00" stroke="#ff0000" stroke-width="2.2" fill="none" stroke-linecap="round" stroke-linejoin="round"/>
<rect x="466.25" y="605.15" width="8.70" height="8.70" fill="#ff0000"/>
<rect x="492.53" y="608.02" width="8.70" height="8.70" fill="#ff0000"/>
<rect x="506.95" y="620.55" width="8.70" height="8.70" fill="#ff0000"/>
<rect x="514.11" y="636.63" width="8.70" height="8.70" fill="#ff0000"/>
<rect x="517.58" y="643.53" width="8.70" height="8.70" fill="#ff0000"/>
<rect x="520.99" y="651.21" width="8.70" height="8.70" fill="#ff0000"/>
<rect x="524.34" y="657.23" width="8.70" height="8.70" fill="#ff0000"/>
<rect x="527.62" y="663.70" width="8.70" height="8.70" fill="#ff0000"/>
<rect x="530.85" y="672.95" width="8.70" height="8.70" fill="#ff0000"/>
<rect x="534.02" y="679.07" width="8.70" height="8.70" fill="#ff0000"/>
<rect x="537.14" y="683.83" width="8.70" height="8.70" fill="#ff0000"/>
<rect x="540.21" y="688.40" width="8.70" height="8.70" fill="#ff0000"/>
<rect x="543.22" y="692.88" width="8.70" height="8.70" fill="#ff0000"/>
<rect x="546.19" y="697.31" width="8.70" height="8.70" fill="#ff0000"/>
<rect x="549.69" y="702.34" width="8.70" height="8.70" fill="#ff0000"/>
<rect x="553.12" y="706.48" width="8.70" height="8.70" fill="#ff0000"/>
<rect x="556.48" y="710.43" width="8.70" height="8.70" fill="#ff0000"/>
<rect x="559.79" y="714.11" width="8.70" height="8.70" fill="#ff0000"/>
<rect x="563.04" y="717.40" width="8.70" height="8.70" fill="#ff0000"/>
<rect x="566.76" y="721.10" width="8.70" height="8.70" fill="#ff0000"/>
<rect x="570.40" y="724.27" width="8.70" height="8.70" fill="#ff0000"/>
<rect x="573.97" y="727.38" width="8.70" height="8.70" fill="#ff0000"/>
<rect x="577.97" y="730.91" width="8.70" height="8.70" fill="#ff0000"/>
<rect x="581.88" y="734.34" width="8.70" height="8.70" fill="#ff0000"/>
<rect x="585.71" y="737.13" width="8.70" height="8.70" fill="#ff0000"/>
<rect x="592.68" y="742.33" width="8.70" height="8.70" fill="#ff0000"/>
<rect x="601.58" y="752.42" width="8.70" height="8.70" fill="#ff0000"/>
<rect x="610.07" y="758.79" width="8.70" height="8.70" fill="#ff0000"/>
<rect x="622.10" y="765.74" width="8.70" height="8.70" fill="#ff0000"/>
<rect x="637.00" y="775.24" width="8.70" height="8.70" fill="#ff0000"/>
<rect x="650.77" y="783.37" width="8.70" height="8.70" fill="#ff0000"/>
<rect x="666.64" y="790.18" width="8.70" height="8.70" fill="#ff0000"/>
<rect x="681.24" y="794.07" width="8.70" height="8.70" fill="#ff0000"/>
<rect x="694.76" y="798.15" width="8.70" height="8.70" fill="#ff0000"/>
<rect x="707.34" y="804.35" width="8.70" height="8.70" fill="#ff0000"/>
<rect x="719.12" y="810.18" width="8.70" height="8.70" fill="#ff0000"/>
<rect x="740.60" y="815.26" width="8.70" height="8.70" fill="#ff0000"/>
<rect x="759.82" y="815.65" width="8.70" height="8.70" fill="#ff0000"/>
<rect x="800.52" y="815.65" width="8.70" height="8.70" fill="#ff0000"/>
</g>
<g clip-path="url(#cb1)">
<path d="M470.60,1002.90L496.88,986.79M496.88,986.79L511.30,949.80M511.30,949.80L518.46,918.48M518.46,918.48L521.93,913.27M521.93,913.27L525.34,907.79M525.34,907.79L528.69,904.82M528.69,904.82L531.97,903.60M531.97,903.60L535.20,903.60M535.20,903.60L538.37,904.68M538.37,904.68L541.49,907.09M541.49,907.09L544.56,910.16M544.56,910.16L547.57,912.86M547.57,912.86L550.54,915.20M550.54,915.20L553.46,917.53M553.46,917.53L556.33,919.84M556.33,919.84L559.16,923.40M559.16,923.40L561.94,927.25M561.94,927.25L564.69,931.29M564.69,931.29L567.39,933.99M567.39,933.99L572.68,938.27M572.68,938.27L577.81,941.06M577.81,941.06L582.81,943.01M582.81,943.01L588.63,946.65M588.63,946.65L593.81,950.38M593.81,950.38L599.75,954.06M599.75,954.06L605.93,957.19M605.93,957.19L613.59,960.19M613.59,960.19L626.45,962.67M626.45,962.67L640.99,980.56M640.99,980.56L655.12,980.71M655.12,980.71L670.99,991.53M670.99,991.53L685.59,987.67M685.59,987.67L699.11,976.60" stroke="#ff0000" stroke-width="2.0" fill="none" stroke-linecap="round" stroke-linejoin="round"/>
<rect x="467.21" y="999.51" width="6.79" height="6.79" fill="#ff0000"/>
<rect x="493.49" y="983.40" width="6.79" height="6.79" fill="#ff0000"/>
<rect x="507.91" y="946.40" width="6.79" height="6.79" fill="#ff0000"/>
<rect x="515.06" y="915.08" width="6.79" height="6.79" fill="#ff0000"/>
<rect x="518.54" y="909.88" width="6.79" height="6.79" fill="#ff0000"/>
<rect x="521.95" y="904.39" width="6.79" height="6.79" fill="#ff0000"/>
<rect x="525.29" y="901.43" width="6.79" height="6.79" fill="#ff0000"/>
<rect x="528.58" y="900.21" width="6.79" height="6.79" fill="#ff0000"/>
<rect x="531.81" y="900.21" width="6.79" height="6.79" fill="#ff0000"/>
<rect x="534.98" y="901.29" width="6.79" height="6.79" fill="#ff0000"/>
<rect x="538.10" y="903.70" width="6.79" height="6.79" fill="#ff0000"/>
<rect x="541.17" y="906.77" width="6.79" height="6.79" fill="#ff0000"/>
<rect x="544.18" y="909.47" width="6.79" height="6.79" fill="#ff0000"/>
<rect x="547.15" y="911.81" width="6.79" height="6.79" fill="#ff0000"/>
<rect x="550.06" y="914.14" width="6.79" height="6.79" fill="#ff0000"/>
<rect x="552.94" y="916.45" width="6.79" height="6.79" fill="#ff0000"/>
<rect x="555.77" y="920.01" width="6.79" height="6.79" fill="#ff0000"/>
<rect x="558.55" y="923.85" width="6.79" height="6.79" fill="#ff0000"/>
<rect x="561.29" y="927.89" width="6.79" height="6.79" fill="#ff0000"/>
<rect x="564.00" y="930.60" width="6.79" height="6.79" fill="#ff0000"/>
<rect x="569.28" y="934.87" width="6.79" height="6.79" fill="#ff0000"/>
<rect x="574.42" y="937.67" width="6.79" height="6.79" fill="#ff0000"/>
<rect x="579.42" y="939.61" width="6.79" height="6.79" fill="#ff0000"/>
<rect x="585.24" y="943.25" width="6.79" height="6.79" fill="#ff0000"/>
<rect x="590.42" y="946.99" width="6.79" height="6.79" fill="#ff0000"/>
<rect x="596.36" y="950.67" width="6.79" height="6.79" fill="#ff0000"/>
<rect x="602.54" y="953.80" width="6.79" height="6.79" fill="#ff0000"/>
<rect x="610.19" y="956.80" width="6.79" height="6.79" fill="#ff0000"/>
<rect x="623.06" y="959.28" width="6.79" height="6.79" fill="#ff0000"/>
<rect x="637.60" y="977.17" width="6.79" height="6.79" fill="#ff0000"/>
<rect x="651.73" y="977.32" width="6.79" height="6.79" fill="#ff0000"/>
<rect x="667.60" y="988.13" width="6.79" height="6.79" fill="#ff0000"/>
<rect x="682.20" y="984.28" width="6.79" height="6.79" fill="#ff0000"/>
<rect x="695.72" y="973.21" width="6.79" height="6.79" fill="#ff0000"/>
</g>
<g clip-path="url(#cb1)">
<path d="M470.60,1001.90L496.88,980.28M496.88,980.28L511.30,958.62M511.30,958.62L518.46,943.12M518.46,943.12L521.93,934.72M521.93,934.72L525.34,928.73M525.34,928.73L528.69,924.53M528.69,924.53L531.97,922.79M531.97,922.79L535.20,923.29M535.20,923.29L538.37,927.01M538.37,927.01L541.49,929.30M541.49,929.30L544.56,932.13M544.56,932.13L547.57,933.71M547.57,933.71L550.54,937.11M550.54,937.11L553.46,941.47M553.46,941.47L556.33,946.28M556.33,946.28L559.16,947.74M559.16,947.74L561.94,950.37M561.94,950.37L564.69,951.92M564.69,951.92L567.39,954.65M567.39,954.65L572.68,957.70M572.68,957.70L577.81,959.33M577.81,959.33L582.81,964.29M582.81,964.29L588.63,967.38M588.63,967.38L593.81,969.88M593.81,969.88L599.75,973.45M599.75,973.45L605.93,975.29M605.93,975.29L613.59,978.29M613.59,978.29L626.45,980.18M626.45,980.18L640.99,980.20M640.99,980.20L655.12,983.92M655.12,983.92L670.99,996.38M670.99,996.38L685.59,994.99M685.59,994.99L699.11,988.00" stroke="#ff8000" stroke-width="2.0" fill="none" stroke-linecap="round" stroke-linejoin="round"/>
<circle cx="470.60" cy="1001.90" r="3.59" fill="#ff8000"/>
<circle cx="496.88" cy="980.28" r="3.59" fill="#ff8000"/>
<circle cx="511.30" cy="958.62" r="3.59" fill="#ff8000"/>
<circle cx="518.46" cy="943.12" r="3.59" fill="#ff8000"/>
<circle cx="521.93" cy="934.72" r="3.59" fill="#ff8000"/>
<circle cx="525.34" cy="928.73" r="3.59" fill="#ff8000"/>
<circle cx="528.69" cy="924.53" r="3.59" fill="#ff8000"/>
<circle cx="531.97" cy="922.79" r="3.59" fill="#ff8000"/>
<circle cx="535.20" cy="923.29" r="3.59" fill="#ff8000"/>
<circle cx="538.37" cy="927.01" r="3.59" fill="#ff8000"/>
<circle cx="541.49" cy="929.30" r="3.59" fill="#ff8000"/>
<circle cx="544.56" cy="932.13" r="3.59" fill="#ff8000"/>
<circle cx="547.57" cy="933.71" r="3.59" fill="#ff8000"/>
<circle cx="550.54" cy="937.11" r="3.59" fill="#ff8000"/>
<circle cx="553.46" cy="941.47" r="3.59" fill="#ff8000"/>
<circle cx="556.33" cy="946.28" r="3.59" fill="#ff8000"/>
<circle cx="559.16" cy="947.74" r="3.59" fill="#ff8000"/>
<circle cx="561.94" cy="950.37" r="3.59" fill="#ff8000"/>
<circle cx="564.69" cy="951.92" r="3.59" fill="#ff8000"/>
<circle cx="567.39" cy="954.65" r="3.59" fill="#ff8000"/>
<circle cx="572.68" cy="957.70" r="3.59" fill="#ff8000"/>
<circle cx="577.81" cy="959.33" r="3.59" fill="#ff8000"/>
<circle cx="582.81" cy="964.29" r="3.59" fill="#ff8000"/>
<circle cx="588.63" cy="967.38" r="3.59" fill="#ff8000"/>
<circle cx="593.81" cy="969.88" r="3.59" fill="#ff8000"/>
<circle cx="599.75" cy="973.45" r="3.59" fill="#ff8000"/>
<circle cx="605.93" cy="975.29" r="3.59" fill="#ff8000"/>
<circle cx="613.59" cy="978.29" r="3.59" fill="#ff8000"/>
<circle cx="626.45" cy="980.18" r="3.59" fill="#ff8000"/>
<circle cx="640.99" cy="980.20" r="3.59" fill="#ff8000"/>
<circle cx="655.12" cy="983.92" r="3.59" fill="#ff8000"/>
<circle cx="670.99" cy="996.38" r="3.59" fill="#ff8000"/>
<circle cx="685.59" cy="994.99" r="3.59" fill="#ff8000"/>
<circle cx="699.11" cy="988.00" r="3.59" fill="#ff8000"/>
</g>
<g clip-path="url(#cb1)">
<path d="M470.60,1008.60L496.88,973.16M496.88,973.16L511.30,966.70M511.30,966.70L518.46,961.93M518.46,961.93L521.93,954.20M521.93,954.20L525.34,947.89M525.34,947.89L528.69,943.94M528.69,943.94L531.97,941.64M531.97,941.64L535.20,944.17M535.20,944.17L538.37,947.26M538.37,947.26L541.49,950.98M541.49,950.98L544.56,954.16M544.56,954.16L547.57,957.11M547.57,957.11L550.54,959.59M550.54,959.59L553.46,962.00M553.46,962.00L556.33,963.90M556.33,963.90L559.16,965.77M559.16,965.77L561.94,967.24M561.94,967.24L564.69,968.64M564.69,968.64L567.39,969.99M567.39,969.99L572.68,972.34M572.68,972.34L577.81,973.19M577.81,973.19L582.81,974.16M582.81,974.16L588.63,976.56M588.63,976.56L593.81,978.46M593.81,978.46L599.75,980.31M599.75,980.31L605.93,981.90M605.93,981.90L613.59,981.90M613.59,981.90L626.45,983.09M626.45,983.09L640.99,986.67M640.99,986.67L655.12,991.10M655.12,991.10L670.99,992.68M670.99,992.68L685.59,986.44M685.59,986.44L699.11,977.60" stroke="#008000" stroke-width="2.0" fill="none" stroke-linecap="round" stroke-linejoin="round"/>
<polygon points="470.60,1003.45 466.14,1011.17 475.06,1011.17" fill="#008000"/>
<polygon points="496.88,968.01 492.43,975.74 501.34,975.74" fill="#008000"/>
<polygon points="511.30,961.55 506.84,969.27 515.76,969.27" fill="#008000"/>
<polygon points="518.46,956.78 514.00,964.50 522.91,964.50" fill="#008000"/>
<polygon points="521.93,949.05 517.47,956.78 526.39,956.78" fill="#008000"/>
<polygon points="525.34,942.74 520.88,950.46 529.80,950.46" fill="#008000"/>
<polygon points="528.69,938.79 524.23,946.52 533.15,946.52" fill="#008000"/>
<polygon points="531.97,936.49 527.52,944.21 536.43,944.21" fill="#008000"/>
<polygon points="535.20,939.02 530.74,946.74 539.66,946.74" fill="#008000"/>
<polygon points="538.37,942.11 533.92,949.83 542.83,949.83" fill="#008000"/>
<polygon points="541.49,945.83 537.03,953.55 545.95,953.55" fill="#008000"/>
<polygon points="544.56,949.01 540.10,956.73 549.02,956.73" fill="#008000"/>
<polygon points="547.57,951.96 543.12,959.69 552.03,959.69" fill="#008000"/>
<polygon points="550.54,954.44 546.08,962.17 555.00,962.17" fill="#008000"/>
<polygon points="553.46,956.86 549.00,964.58 557.92,964.58" fill="#008000"/>
<polygon points="556.33,958.76 551.87,966.48 560.79,966.48" fill="#008000"/>
<polygon points="559.16,960.63 554.70,968.35 563.62,968.35" fill="#008000"/>
<polygon points="561.94,962.09 557.49,969.82 566.40,969.82" fill="#008000"/>
<polygon points="564.69,963.49 560.23,971.21 569.14,971.21" fill="#008000"/>
<polygon points="567.39,964.85 562.93,972.57 571.85,972.57" fill="#008000"/>
<polygon points="572.68,967.20 568.22,974.92 577.13,974.92" fill="#008000"/>
<polygon points="577.81,968.04 573.36,975.76 582.27,975.76" fill="#008000"/>
<polygon points="582.81,969.02 578.35,976.74 587.27,976.74" fill="#008000"/>
<polygon points="588.63,971.41 584.18,979.14 593.09,979.14" fill="#008000"/>
<polygon points="593.81,973.31 589.35,981.03 598.27,981.03" fill="#008000"/>
<polygon points="599.75,975.16 595.29,982.89 604.21,982.89" fill="#008000"/>
<polygon points="605.93,976.75 601.47,984.47 610.39,984.47" fill="#008000"/>
<polygon points="613.59,976.75 609.13,984.47 618.04,984.47" fill="#008000"/>
<polygon points="626.45,977.94 621.99,985.66 630.91,985.66" fill="#008000"/>
<polygon points="640.99,981.52 636.53,989.25 645.45,989.25" fill="#008000"/>
<polygon points="655.12,985.95 650.66,993.68 659.58,993.68" fill="#008000"/>
<polygon points="670.99,987.53 666.53,995.25 675.45,995.25" fill="#008000"/>
<polygon points="685.59,981.29 681.13,989.01 690.05,989.01" fill="#008000"/>
<polygon points="699.11,972.45 694.65,980.17 703.57,980.17" fill="#008000"/>
</g>
<g clip-path="url(#cb1)">
<path d="M470.60,998.80L496.88,985.49M496.88,985.49L511.30,984.07M511.30,984.07L518.46,979.23M518.46,979.23L521.93,976.43M521.93,976.43L525.34,975.67M525.34,975.67L528.69,973.85M528.69,973.85L531.97,973.32M531.97,973.32L535.20,972.16M535.20,972.16L538.37,974.07M538.37,974.07L541.49,975.34M541.49,975.34L544.56,977.88M544.56,977.88L547.57,979.33M547.57,979.33L550.54,981.27M550.54,981.27L553.46,982.27M553.46,982.27L556.33,983.63M556.33,983.63L559.16,984.14M559.16,984.14L561.94,985.75M561.94,985.75L564.69,986.11M564.69,986.11L567.39,987.51M567.39,987.51L572.68,988.77M572.68,988.77L577.81,989.68M577.81,989.68L582.81,989.89M582.81,989.89L588.63,990.17M588.63,990.17L593.81,990.75M593.81,990.75L599.75,991.10M599.75,991.10L605.93,991.10M605.93,991.10L613.59,991.10M613.59,991.10L626.45,992.78M626.45,992.78L640.99,993.49M640.99,993.49L655.12,998.80M655.12,998.80L670.99,997.58M670.99,997.58L685.59,996.28M685.59,996.28L699.11,992.30" stroke="#0000ff" stroke-width="2.0" fill="none" stroke-linecap="round" stroke-linejoin="round"/>
<polygon points="470.60,994.16 474.97,998.80 470.60,1003.44 466.23,998.80" fill="#0000ff"/>
<polygon points="496.88,980.85 501.25,985.49 496.88,990.13 492.52,985.49" fill="#0000ff"/>
<polygon points="511.30,979.43 515.67,984.07 511.30,988.71 506.93,984.07" fill="#0000ff"/>
<polygon points="518.46,974.59 522.82,979.23 518.46,983.87 514.09,979.23" fill="#0000ff"/>
<polygon points="521.93,971.79 526.30,976.43 521.93,981.07 517.56,976.43" fill="#0000ff"/>
<polygon points="525.34,971.03 529.71,975.67 525.34,980.31 520.97,975.67" fill="#0000ff"/>
<polygon points="528.69,969.21 533.06,973.85 528.69,978.49 524.32,973.85" fill="#0000ff"/>
<polygon points="531.97,968.67 536.34,973.32 531.97,977.96 527.61,973.32" fill="#0000ff"/>
<polygon points="535.20,967.52 539.57,972.16 535.20,976.81 530.83,972.16" fill="#0000ff"/>
<polygon points="538.37,969.43 542.74,974.07 538.37,978.71 534.01,974.07" fill="#0000ff"/>
<polygon points="541.49,970.70 545.86,975.34 541.49,979.98 537.12,975.34" fill="#0000ff"/>
<polygon points="544.56,973.24 548.93,977.88 544.56,982.52 540.19,977.88" fill="#0000ff"/>
<polygon points="547.57,974.69 551.94,979.33 547.57,983.97 543.21,979.33" fill="#0000ff"/>
<polygon points="550.54,976.62 554.91,981.27 550.54,985.91 546.17,981.27" fill="#0000ff"/>
<polygon points="553.46,977.63 557.83,982.27 553.46,986.91 549.09,982.27" fill="#0000ff"/>
<polygon points="556.33,978.99 560.70,983.63 556.33,988.27 551.96,983.63" fill="#0000ff"/>
<polygon points="559.16,979.50 563.53,984.14 559.16,988.78 554.79,984.14" fill="#0000ff"/>
<polygon points="561.94,981.11 566.31,985.75 561.94,990.39 557.58,985.75" fill="#0000ff"/>
<polygon points="564.69,981.47 569.05,986.11 564.69,990.75 560.32,986.11" fill="#0000ff"/>
<polygon points="567.39,982.87 571.76,987.51 567.39,992.15 563.02,987.51" fill="#0000ff"/>
<polygon points="572.68,984.13 577.04,988.77 572.68,993.42 568.31,988.77" fill="#0000ff"/>
<polygon points="577.81,985.04 582.18,989.68 577.81,994.32 573.45,989.68" fill="#0000ff"/>
<polygon points="582.81,985.25 587.18,989.89 582.81,994.53 578.44,989.89" fill="#0000ff"/>
<polygon points="588.63,985.53 593.00,990.17 588.63,994.81 584.27,990.17" fill="#0000ff"/>
<polygon points="593.81,986.11 598.18,990.75 593.81,995.39 589.44,990.75" fill="#0000ff"/>
<polygon points="599.75,986.46 604.12,991.10 599.75,995.74 595.38,991.10" fill="#0000ff"/>
<polygon points="605.93,986.46 610.30,991.10 605.93,995.74 601.56,991.10" fill="#0000ff"/>
<polygon points="613.59,986.46 617.95,991.10 613.59,995.74 609.22,991.10" fill="#0000ff"/>
<polygon points="626.45,988.14 630.82,992.78 626.45,997.42 622.08,992.78" fill="#0000ff"/>
<polygon points="640.99,988.85 645.36,993.49 640.99,998.14 636.62,993.49" fill="#0000ff"/>
<polygon points="655.12,994.16 659.49,998.80 655.12,1003.44 650.75,998.80" fill="#0000ff"/>
<polygon points="670.99,992.93 675.36,997.58 670.99,1002.22 666.62,997.58" fill="#0000ff"/>
<polygon points="685.59,991.64 689.96,996.28 685.59,1000.92 681.22,996.28" fill="#0000ff"/>
<polygon points="699.11,987.66 703.48,992.30 699.11,996.94 694.74,992.30" fill="#0000ff"/>
</g>
<g clip-path="url(#cb1)">
<path d="M470.60,998.40L496.88,991.59M496.88,991.59L511.30,989.36M511.30,989.36L518.46,987.13M518.46,987.13L521.93,984.06M521.93,984.06L525.34,984.04M525.34,984.04L528.69,981.07M528.69,981.07L531.97,981.20M531.97,981.20L535.20,982.42M535.20,982.42L538.37,987.12M538.37,987.12L541.49,990.69M541.49,990.69L544.56,996.72M544.56,996.72L547.57,997.93M547.57,997.93L550.54,1001.36M550.54,1001.36L553.46,1001.29M553.46,1001.29L556.33,1002.97M556.33,1002.97L559.16,1001.90M559.16,1001.90L561.94,1003.35M561.94,1003.35L564.69,1002.04M564.69,1002.04L567.39,1003.19M567.39,1003.19L572.68,1001.91M572.68,1001.91L577.81,1001.20M577.81,1001.20L582.81,999.01M582.81,999.01L588.63,996.25M588.63,996.25L593.81,995.46M593.81,995.46L599.75,995.61M599.75,995.61L605.93,996.36M605.93,996.36L613.59,995.20M613.59,995.20L626.45,994.01M626.45,994.01L640.99,994.69M640.99,994.69L655.12,1000.01M655.12,1000.01L670.99,1004.78M670.99,1004.78L685.59,1003.59M685.59,1003.59L699.11,1003.10" stroke="#000080" stroke-width="2.0" fill="none" stroke-linecap="round" stroke-linejoin="round"/>
<polygon points="470.60,993.10 471.85,996.68 475.64,996.76 472.62,999.06 473.72,1002.69 470.60,1000.52 467.48,1002.69 468.58,999.06 465.56,996.76 469.35,996.68" fill="#000080"/>
<polygon points="496.88,986.28 498.13,989.87 501.93,989.95 498.90,992.24 500.00,995.88 496.88,993.71 493.77,995.88 494.87,992.24 491.84,989.95 495.64,989.87" fill="#000080"/>
<polygon points="511.30,984.06 512.55,987.64 516.35,987.72 513.32,990.02 514.42,993.65 511.30,991.48 508.18,993.65 509.28,990.02 506.26,987.72 510.06,987.64" fill="#000080"/>
<polygon points="518.46,981.83 519.70,985.42 523.50,985.50 520.47,987.79 521.57,991.43 518.46,989.26 515.34,991.43 516.44,987.79 513.41,985.50 517.21,985.42" fill="#000080"/>
<polygon points="521.93,978.76 523.18,982.35 526.98,982.43 523.95,984.72 525.05,988.36 521.93,986.19 518.81,988.36 519.91,984.72 516.89,982.43 520.68,982.35" fill="#000080"/>
<polygon points="525.34,978.73 526.59,982.32 530.38,982.40 527.36,984.69 528.46,988.33 525.34,986.16 522.22,988.33 523.32,984.69 520.30,982.40 524.09,982.32" fill="#000080"/>
<polygon points="528.69,975.77 529.93,979.35 533.73,979.43 530.70,981.73 531.80,985.36 528.69,983.19 525.57,985.36 526.67,981.73 523.64,979.43 527.44,979.35" fill="#000080"/>
<polygon points="531.97,975.89 533.22,979.48 537.02,979.56 533.99,981.85 535.09,985.49 531.97,983.32 528.86,985.49 529.96,981.85 526.93,979.56 530.73,979.48" fill="#000080"/>
<polygon points="535.20,977.12 536.45,980.71 540.25,980.78 537.22,983.08 538.32,986.71 535.20,984.55 532.08,986.71 533.18,983.08 530.16,980.78 533.96,980.71" fill="#000080"/>
<polygon points="538.37,981.82 539.62,985.41 543.42,985.48 540.39,987.78 541.49,991.41 538.37,989.24 535.26,991.41 536.36,987.78 533.33,985.48 537.13,985.41" fill="#000080"/>
<polygon points="541.49,985.38 542.74,988.97 546.54,989.05 543.51,991.34 544.61,994.98 541.49,992.81 538.38,994.98 539.47,991.34 536.45,989.05 540.25,988.97" fill="#000080"/>
<polygon points="544.56,991.42 545.81,995.01 549.60,995.08 546.58,997.38 547.68,1001.01 544.56,998.84 541.44,1001.01 542.54,997.38 539.51,995.08 543.31,995.01" fill="#000080"/>
<polygon points="547.57,992.63 548.82,996.22 552.62,996.29 549.59,998.59 550.69,1002.22 547.57,1000.05 544.46,1002.22 545.56,998.59 542.53,996.29 546.33,996.22" fill="#000080"/>
<polygon points="550.54,996.06 551.79,999.64 555.58,999.72 552.56,1002.02 553.66,1005.65 550.54,1003.48 547.42,1005.65 548.52,1002.02 545.49,999.72 549.29,999.64" fill="#000080"/>
<polygon points="553.46,995.99 554.70,999.58 558.50,999.65 555.48,1001.95 556.58,1005.58 553.46,1003.41 550.34,1005.58 551.44,1001.95 548.41,999.65 552.21,999.58" fill="#000080"/>
<polygon points="556.33,997.66 557.58,1001.25 561.37,1001.33 558.35,1003.62 559.45,1007.26 556.33,1005.09 553.21,1007.26 554.31,1003.62 551.29,1001.33 555.08,1001.25" fill="#000080"/>
<polygon points="559.16,996.60 560.41,1000.19 564.20,1000.27 561.18,1002.56 562.28,1006.20 559.16,1004.03 556.04,1006.20 557.14,1002.56 554.11,1000.27 557.91,1000.19" fill="#000080"/>
<polygon points="561.94,998.05 563.19,1001.64 566.99,1001.71 563.96,1004.01 565.06,1007.64 561.94,1005.47 558.83,1007.64 559.93,1004.01 556.90,1001.71 560.70,1001.64" fill="#000080"/>
<polygon points="564.69,996.73 565.93,1000.32 569.73,1000.40 566.70,1002.69 567.80,1006.33 564.69,1004.16 561.57,1006.33 562.67,1002.69 559.64,1000.40 563.44,1000.32" fill="#000080"/>
<polygon points="567.39,997.88 568.64,1001.47 572.43,1001.55 569.41,1003.84 570.51,1007.48 567.39,1005.31 564.27,1007.48 565.37,1003.84 562.34,1001.55 566.14,1001.47" fill="#000080"/>
<polygon points="572.68,996.60 573.92,1000.19 577.72,1000.27 574.69,1002.56 575.79,1006.20 572.68,1004.03 569.56,1006.20 570.66,1002.56 567.63,1000.27 571.43,1000.19" fill="#000080"/>
<polygon points="577.81,995.90 579.06,999.49 582.86,999.56 579.83,1001.86 580.93,1005.49 577.81,1003.33 574.70,1005.49 575.80,1001.86 572.77,999.56 576.57,999.49" fill="#000080"/>
<polygon points="582.81,993.71 584.06,997.29 587.86,997.37 584.83,999.67 585.93,1003.30 582.81,1001.13 579.69,1003.30 580.79,999.67 577.77,997.37 581.57,997.29" fill="#000080"/>
<polygon points="588.63,990.95 589.88,994.54 593.68,994.61 590.65,996.91 591.75,1000.54 588.63,998.38 585.52,1000.54 586.62,996.91 583.59,994.61 587.39,994.54" fill="#000080"/>
<polygon points="593.81,990.16 595.06,993.75 598.86,993.82 595.83,996.12 596.93,999.75 593.81,997.58 590.69,999.75 591.79,996.12 588.77,993.82 592.57,993.75" fill="#000080"/>
<polygon points="599.75,990.30 601.00,993.89 604.79,993.97 601.77,996.26 602.87,999.90 599.75,997.73 596.63,999.90 597.73,996.26 594.70,993.97 598.50,993.89" fill="#000080"/>
<polygon points="605.93,991.06 607.18,994.65 610.98,994.73 607.95,997.02 609.05,1000.66 605.93,998.49 602.81,1000.66 603.91,997.02 600.89,994.73 604.69,994.65" fill="#000080"/>
<polygon points="613.59,989.90 614.83,993.49 618.63,993.56 615.60,995.86 616.70,999.49 613.59,997.32 610.47,999.49 611.57,995.86 608.54,993.56 612.34,993.49" fill="#000080"/>
<polygon points="626.45,988.71 627.70,992.30 631.49,992.37 628.47,994.67 629.57,998.31 626.45,996.14 623.33,998.31 624.43,994.67 621.40,992.37 625.20,992.30" fill="#000080"/>
<polygon points="640.99,989.39 642.24,992.98 646.03,993.06 643.01,995.35 644.11,998.99 640.99,996.82 637.87,998.99 638.97,995.35 635.94,993.06 639.74,992.98" fill="#000080"/>
<polygon points="655.12,994.70 656.37,998.29 660.16,998.37 657.14,1000.66 658.24,1004.30 655.12,1002.13 652.00,1004.30 653.10,1000.66 650.08,998.37 653.87,998.29" fill="#000080"/>
<polygon points="670.99,999.47 672.24,1003.06 676.04,1003.14 673.01,1005.43 674.11,1009.07 670.99,1006.90 667.87,1009.07 668.97,1005.43 665.95,1003.14 669.74,1003.06" fill="#000080"/>
<polygon points="685.59,998.28 686.84,1001.87 690.64,1001.95 687.61,1004.24 688.71,1007.88 685.59,1005.71 682.47,1007.88 683.57,1004.24 680.55,1001.95 684.34,1001.87" fill="#000080"/>
<polygon points="699.11,997.80 700.36,1001.38 704.15,1001.46 701.13,1003.76 702.23,1007.39 699.11,1005.22 695.99,1007.39 697.09,1003.76 694.06,1001.46 697.86,1001.38" fill="#000080"/>
</g>
<rect x="62.7" y="591.4" width="351.5" height="253.5" fill="none" stroke="#000" stroke-width="1.5"/>
<rect x="62.7" y="859.7" width="351.5" height="156.39999999999998" fill="none" stroke="#000" stroke-width="1.5"/>
<path d="M103.20,844.9v-6.2M103.20,591.4v6.2M177.16,844.9v-3.4M177.16,591.4v3.4M229.63,844.9v-6.2M229.63,591.4v6.2M270.33,844.9v-3.4M270.33,591.4v3.4M303.59,844.9v-6.2M303.59,591.4v6.2M331.71,844.9v-3.4M331.71,591.4v3.4M356.07,844.9v-6.2M356.07,591.4v6.2M377.55,844.9v-3.4M377.55,591.4v3.4M396.77,844.9v-6.2M396.77,591.4v6.2M62.7,819.55h6.2M414.2,819.55h-6.2M62.7,756.17h6.2M414.2,756.17h-6.2M62.7,692.80h6.2M414.2,692.80h-6.2M62.7,629.42h6.2M414.2,629.42h-6.2M62.7,787.86h3.4M414.2,787.86h-3.4M62.7,724.49h3.4M414.2,724.49h-3.4M62.7,661.11h3.4M414.2,661.11h-3.4M62.7,597.74h3.4M414.2,597.74h-3.4" stroke="#000" stroke-width="1.4" fill="none"/>
<path d="M103.20,1016.1v-4.7M103.20,859.7v4.7M177.16,1016.1v-2.7M177.16,859.7v2.7M229.63,1016.1v-4.7M229.63,859.7v4.7M270.33,1016.1v-2.7M270.33,859.7v2.7M303.59,1016.1v-4.7M303.59,859.7v4.7M331.71,1016.1v-2.7M331.71,859.7v2.7M356.07,1016.1v-4.7M356.07,859.7v4.7M377.55,1016.1v-2.7M377.55,859.7v2.7M396.77,1016.1v-4.7M396.77,859.7v4.7M62.7,998.72h4.7M414.2,998.72h-4.7M62.7,963.97h4.7M414.2,963.97h-4.7M62.7,929.21h4.7M414.2,929.21h-4.7M62.7,894.46h4.7M414.2,894.46h-4.7M62.7,981.34h2.7M414.2,981.34h-2.7M62.7,946.59h2.7M414.2,946.59h-2.7M62.7,911.83h2.7M414.2,911.83h-2.7M62.7,877.08h2.7M414.2,877.08h-2.7" stroke="#000" stroke-width="1.4" fill="none"/>
<rect x="430.1" y="591.4" width="351.19999999999993" height="253.5" fill="none" stroke="#000" stroke-width="1.5"/>
<rect x="430.1" y="859.7" width="351.19999999999993" height="156.39999999999998" fill="none" stroke="#000" stroke-width="1.5"/>
<path d="M470.60,844.9v-6.2M470.60,591.4v6.2M544.56,844.9v-3.4M544.56,591.4v3.4M597.03,844.9v-6.2M597.03,591.4v6.2M637.73,844.9v-3.4M637.73,591.4v3.4M670.99,844.9v-6.2M670.99,591.4v6.2M699.11,844.9v-3.4M699.11,591.4v3.4M723.47,844.9v-6.2M723.47,591.4v6.2M744.95,844.9v-3.4M744.95,591.4v3.4M764.17,844.9v-6.2M764.17,591.4v6.2M430.1,819.55h6.2M781.3,819.55h-6.2M430.1,756.17h6.2M781.3,756.17h-6.2M430.1,692.80h6.2M781.3,692.80h-6.2M430.1,629.42h6.2M781.3,629.42h-6.2M430.1,787.86h3.4M781.3,787.86h-3.4M430.1,724.49h3.4M781.3,724.49h-3.4M430.1,661.11h3.4M781.3,661.11h-3.4M430.1,597.74h3.4M781.3,597.74h-3.4" stroke="#000" stroke-width="1.4" fill="none"/>
<path d="M470.60,1016.1v-4.7M470.60,859.7v4.7M544.56,1016.1v-2.7M544.56,859.7v2.7M597.03,1016.1v-4.7M597.03,859.7v4.7M637.73,1016.1v-2.7M637.73,859.7v2.7M670.99,1016.1v-4.7M670.99,859.7v4.7M699.11,1016.1v-2.7M699.11,859.7v2.7M723.47,1016.1v-4.7M723.47,859.7v4.7M744.95,1016.1v-2.7M744.95,859.7v2.7M764.17,1016.1v-4.7M764.17,859.7v4.7M430.1,998.72h4.7M781.3,998.72h-4.7M430.1,963.97h4.7M781.3,963.97h-4.7M430.1,929.21h4.7M781.3,929.21h-4.7M430.1,894.46h4.7M781.3,894.46h-4.7M430.1,981.34h2.7M781.3,981.34h-2.7M430.1,946.59h2.7M781.3,946.59h-2.7M430.1,911.83h2.7M781.3,911.83h-2.7M430.1,877.08h2.7M781.3,877.08h-2.7" stroke="#000" stroke-width="1.4" fill="none"/>
<rect x="797.2" y="591.4" width="352.79999999999995" height="253.5" fill="none" stroke="#000" stroke-width="1.5"/>
<rect x="797.2" y="859.7" width="352.79999999999995" height="156.39999999999998" fill="none" stroke="#000" stroke-width="1.5"/>
<path d="M821.80,844.9v-6.2M821.80,591.4v6.2M895.76,844.9v-3.4M895.76,591.4v3.4M948.23,844.9v-6.2M948.23,591.4v6.2M988.93,844.9v-3.4M988.93,591.4v3.4M1022.19,844.9v-6.2M1022.19,591.4v6.2M1050.31,844.9v-3.4M1050.31,591.4v3.4M1074.67,844.9v-6.2M1074.67,591.4v6.2M1096.15,844.9v-3.4M1096.15,591.4v3.4M1115.37,844.9v-6.2M1115.37,591.4v6.2M797.2,819.55h6.2M1150.0,819.55h-6.2M797.2,756.17h6.2M1150.0,756.17h-6.2M797.2,692.80h6.2M1150.0,692.80h-6.2M797.2,629.42h6.2M1150.0,629.42h-6.2M797.2,787.86h3.4M1150.0,787.86h-3.4M797.2,724.49h3.4M1150.0,724.49h-3.4M797.2,661.11h3.4M1150.0,661.11h-3.4M797.2,597.74h3.4M1150.0,597.74h-3.4" stroke="#000" stroke-width="1.4" fill="none"/>
<path d="M821.80,1016.1v-4.7M821.80,859.7v4.7M895.76,1016.1v-2.7M895.76,859.7v2.7M948.23,1016.1v-4.7M948.23,859.7v4.7M988.93,1016.1v-2.7M988.93,859.7v2.7M1022.19,1016.1v-4.7M1022.19,859.7v4.7M1050.31,1016.1v-2.7M1050.31,859.7v2.7M1074.67,1016.1v-4.7M1074.67,859.7v4.7M1096.15,1016.1v-2.7M1096.15,859.7v2.7M1115.37,1016.1v-4.7M1115.37,859.7v4.7M797.2,998.72h4.7M1150.0,998.72h-4.7M797.2,963.97h4.7M1150.0,963.97h-4.7M797.2,929.21h4.7M1150.0,929.21h-4.7M797.2,894.46h4.7M1150.0,894.46h-4.7M797.2,981.34h2.7M1150.0,981.34h-2.7M797.2,946.59h2.7M1150.0,946.59h-2.7M797.2,911.83h2.7M1150.0,911.83h-2.7M797.2,877.08h2.7M1150.0,877.08h-2.7" stroke="#000" stroke-width="1.4" fill="none"/>
<path d="M63.45,819.55H413.45" stroke="#808080" stroke-width="1.6" stroke-dasharray="6.1,5.66" stroke-dashoffset="1.35" fill="none"/>
<path d="M63.45,998.72H413.45" stroke="#808080" stroke-width="1.6" stroke-dasharray="6.1,5.66" stroke-dashoffset="1.35" fill="none"/>
<path d="M430.85,819.55H780.55" stroke="#808080" stroke-width="1.6" stroke-dasharray="6.1,5.66" stroke-dashoffset="1.35" fill="none"/>
<path d="M430.85,998.72H780.55" stroke="#808080" stroke-width="1.6" stroke-dasharray="6.1,5.66" stroke-dashoffset="1.35" fill="none"/>
<path d="M797.95,819.55H1149.25" stroke="#808080" stroke-width="1.6" stroke-dasharray="6.1,5.66" stroke-dashoffset="1.35" fill="none"/>
<path d="M797.95,998.72H1149.25" stroke="#808080" stroke-width="1.6" stroke-dasharray="6.1,5.66" stroke-dashoffset="1.35" fill="none"/>
<text x="29.51" y="635.92" font-family="Liberation Sans, sans-serif" font-size="21.0" letter-spacing="-0.85">1.5</text><rect x="30.21" y="633.06" width="4.40" height="3.67" fill="#fff"/><rect x="36.82" y="633.06" width="4.72" height="3.67" fill="#fff"/>
<text x="29.51" y="699.30" font-family="Liberation Sans, sans-serif" font-size="21.0" letter-spacing="-0.85">1.0</text><rect x="30.21" y="696.43" width="4.40" height="3.67" fill="#fff"/><rect x="36.82" y="696.43" width="4.72" height="3.67" fill="#fff"/>
<text x="29.51" y="762.67" font-family="Liberation Sans, sans-serif" font-size="21.0" letter-spacing="-0.85">0.5</text>
<text x="29.51" y="826.05" font-family="Liberation Sans, sans-serif" font-size="21.0" letter-spacing="-0.85">0.0</text>
<text x="45.32" y="865.70" font-family="Liberation Sans, sans-serif" font-size="21.0" letter-spacing="-0.85">4</text>
<text x="45.32" y="901.06" font-family="Liberation Sans, sans-serif" font-size="21.0" letter-spacing="-0.85">3</text>
<text x="45.32" y="935.81" font-family="Liberation Sans, sans-serif" font-size="21.0" letter-spacing="-0.85">2</text>
<text x="45.32" y="970.57" font-family="Liberation Sans, sans-serif" font-size="21.0" letter-spacing="-0.85">1</text><rect x="46.02" y="967.70" width="4.40" height="3.67" fill="#fff"/><rect x="52.64" y="967.70" width="4.72" height="3.67" fill="#fff"/>
<text x="45.32" y="1005.32" font-family="Liberation Sans, sans-serif" font-size="21.0" letter-spacing="-0.85">0</text>
<text x="84.04" y="1037.30" font-family="Liberation Sans, sans-serif" font-size="21.0" letter-spacing="-0.85">0.02</text>
<text x="210.47" y="1037.30" font-family="Liberation Sans, sans-serif" font-size="21.0" letter-spacing="-0.85">0.04</text>
<text x="284.43" y="1037.30" font-family="Liberation Sans, sans-serif" font-size="21.0" letter-spacing="-0.85">0.06</text>
<text x="336.90" y="1037.30" font-family="Liberation Sans, sans-serif" font-size="21.0" letter-spacing="-0.85">0.08</text>
<text x="383.02" y="1037.30" font-family="Liberation Sans, sans-serif" font-size="21.0" letter-spacing="-0.85">0.1</text><rect x="399.53" y="1034.43" width="4.40" height="3.67" fill="#fff"/><rect x="406.15" y="1034.43" width="4.72" height="3.67" fill="#fff"/>
<text x="451.44" y="1037.30" font-family="Liberation Sans, sans-serif" font-size="21.0" letter-spacing="-0.85">0.02</text>
<text x="577.87" y="1037.30" font-family="Liberation Sans, sans-serif" font-size="21.0" letter-spacing="-0.85">0.04</text>
<text x="651.83" y="1037.30" font-family="Liberation Sans, sans-serif" font-size="21.0" letter-spacing="-0.85">0.06</text>
<text x="704.30" y="1037.30" font-family="Liberation Sans, sans-serif" font-size="21.0" letter-spacing="-0.85">0.08</text>
<text x="750.42" y="1037.30" font-family="Liberation Sans, sans-serif" font-size="21.0" letter-spacing="-0.85">0.1</text><rect x="766.93" y="1034.43" width="4.40" height="3.67" fill="#fff"/><rect x="773.55" y="1034.43" width="4.72" height="3.67" fill="#fff"/>
<text x="807.60" y="1037.30" font-family="Liberation Sans, sans-serif" font-size="21.0" letter-spacing="-0.85">0.02</text>
<text x="71.5" y="618.8" font-family="Liberation Sans, sans-serif" font-size="21.8">(a)</text>
<text x="437.9" y="618.0" font-family="Liberation Sans, sans-serif" font-size="21.8">(b)</text>
<text x="807.0" y="618.8" font-family="Liberation Sans, sans-serif" font-size="21.8">(c)</text>
<text x="73.40" y="887.20" font-family="Liberation Sans, sans-serif" font-size="21.0" letter-spacing="-1.6">x10</text><rect x="83.00" y="884.33" width="4.40" height="3.67" fill="#fff"/><rect x="89.62" y="884.33" width="4.72" height="3.67" fill="#fff"/>
<text x="102.46" y="879.4" font-family="Liberation Sans, sans-serif" font-size="15" letter-spacing="-0.3">-7</text>
<text transform="translate(24.0,836.6) rotate(-90)" font-family="Liberation Sans, sans-serif" font-size="21.8">Relative Period Change</text>
<text transform="translate(24.9,1022.2) rotate(-90)" font-family="Liberation Sans, sans-serif" font-size="22.2">Dissipation Q<tspan dy="-12.6" font-size="13">-1</tspan><tspan dy="12.6" dx="0.6" font-size="22.4">(T)</tspan></text>
<g transform="translate(24.9,1022.2) rotate(-90)"><rect x="136.44" y="-14.87" width="3.00" height="3.07" fill="#fff"/><rect x="140.95" y="-14.87" width="3.38" height="3.07" fill="#fff"/></g>
<text x="690.7" y="1070.3" font-family="Liberation Sans, sans-serif" font-size="24.6" letter-spacing="0.25">Temperature (K)</text>
<path d="M254.10,620.80H267.70M279.70,620.80H293.30" stroke="#ff0000" stroke-width="2.2" stroke-linecap="round" fill="none"/>
<rect x="269.25" y="616.45" width="8.70" height="8.70" fill="#ff0000"/>
<text x="297.70" y="626.70" font-family="Liberation Sans, sans-serif" font-size="16.6">47.2</text>
<path transform="translate(336.11,626.70)" d="M0.65,-7.3V3.1M0.65,-7.3V-2.4Q0.7,-0.1 3.0,-0.1Q5.3,-0.1 5.75,-2.6M5.75,-7.3V-1.3Q5.75,0 7.4,-0.35" stroke="#000" stroke-width="1.15" fill="none"/>
<text x="344.71" y="626.70" font-family="Liberation Sans, sans-serif" font-size="16.0">m/s</text>
<path d="M254.10,642.62H267.70M279.70,642.62H293.30" stroke="#ff8000" stroke-width="2.2" stroke-linecap="round" fill="none"/>
<circle cx="273.60" cy="642.62" r="4.60" fill="#ff8000"/>
<text x="297.70" y="648.52" font-family="Liberation Sans, sans-serif" font-size="16.6">87.5</text>
<path transform="translate(336.11,648.52)" d="M0.65,-7.3V3.1M0.65,-7.3V-2.4Q0.7,-0.1 3.0,-0.1Q5.3,-0.1 5.75,-2.6M5.75,-7.3V-1.3Q5.75,0 7.4,-0.35" stroke="#000" stroke-width="1.15" fill="none"/>
<text x="344.71" y="648.52" font-family="Liberation Sans, sans-serif" font-size="16.0">m/s</text>
<path d="M254.10,664.44H267.70M279.70,664.44H293.30" stroke="#008000" stroke-width="2.2" stroke-linecap="round" fill="none"/>
<polygon points="273.60,657.84 267.88,667.74 279.32,667.74" fill="#008000"/>
<text x="297.70" y="670.34" font-family="Liberation Sans, sans-serif" font-size="16.6">281.8</text><rect x="316.53" y="667.80" width="3.63" height="3.34" fill="#fff"/><rect x="321.99" y="667.80" width="3.98" height="3.34" fill="#fff"/>
<path transform="translate(345.34,670.34)" d="M0.65,-7.3V3.1M0.65,-7.3V-2.4Q0.7,-0.1 3.0,-0.1Q5.3,-0.1 5.75,-2.6M5.75,-7.3V-1.3Q5.75,0 7.4,-0.35" stroke="#000" stroke-width="1.15" fill="none"/>
<text x="353.94" y="670.34" font-family="Liberation Sans, sans-serif" font-size="16.0">m/s</text>
<path d="M254.10,686.26H267.70M279.70,686.26H293.30" stroke="#0000ff" stroke-width="2.2" stroke-linecap="round" fill="none"/>
<polygon points="273.60,680.31 279.20,686.26 273.60,692.21 268.00,686.26" fill="#0000ff"/>
<text x="297.70" y="692.16" font-family="Liberation Sans, sans-serif" font-size="16.6">475.8</text>
<path transform="translate(345.34,692.16)" d="M0.65,-7.3V3.1M0.65,-7.3V-2.4Q0.7,-0.1 3.0,-0.1Q5.3,-0.1 5.75,-2.6M5.75,-7.3V-1.3Q5.75,0 7.4,-0.35" stroke="#000" stroke-width="1.15" fill="none"/>
<text x="353.94" y="692.16" font-family="Liberation Sans, sans-serif" font-size="16.0">m/s</text>
<path d="M254.10,708.08H267.70M279.70,708.08H293.30" stroke="#000080" stroke-width="2.2" stroke-linecap="round" fill="none"/>
<polygon points="273.60,701.28 275.20,705.88 280.07,705.98 276.19,708.92 277.60,713.58 273.60,710.80 269.60,713.58 271.01,708.92 267.13,705.98 272.00,705.88" fill="#000080"/>
<text x="297.70" y="713.98" font-family="Liberation Sans, sans-serif" font-size="16.6">880.1</text><rect x="330.37" y="711.44" width="3.63" height="3.34" fill="#fff"/><rect x="335.83" y="711.44" width="3.98" height="3.34" fill="#fff"/>
<path transform="translate(345.34,713.98)" d="M0.65,-7.3V3.1M0.65,-7.3V-2.4Q0.7,-0.1 3.0,-0.1Q5.3,-0.1 5.75,-2.6M5.75,-7.3V-1.3Q5.75,0 7.4,-0.35" stroke="#000" stroke-width="1.15" fill="none"/>
<text x="353.94" y="713.98" font-family="Liberation Sans, sans-serif" font-size="16.0">m/s</text>
<path d="M254.10,729.90H267.70M279.70,729.90H293.30" stroke="#8000ff" stroke-width="2.2" stroke-linecap="round" fill="none"/>
<polygon points="273.60,724.60 278.64,728.26 276.72,734.19 270.48,734.19 268.56,728.26" fill="#8000ff"/>
<text x="297.70" y="735.80" font-family="Liberation Sans, sans-serif" font-size="16.6">3094.8</text>
<path transform="translate(354.56,735.80)" d="M0.65,-7.3V3.1M0.65,-7.3V-2.4Q0.7,-0.1 3.0,-0.1Q5.3,-0.1 5.75,-2.6M5.75,-7.3V-1.3Q5.75,0 7.4,-0.35" stroke="#000" stroke-width="1.15" fill="none"/>
<text x="363.17" y="735.80" font-family="Liberation Sans, sans-serif" font-size="16.0">m/s</text>
<path d="M626.60,615.50H640.35M652.35,615.50H666.00" stroke="#ff0000" stroke-width="2.2" stroke-linecap="round" fill="none"/>
<rect x="641.90" y="611.15" width="8.70" height="8.70" fill="#ff0000"/>
<text x="670.50" y="621.40" font-family="Liberation Sans, sans-serif" font-size="16.6">47.7</text>
<path transform="translate(708.90,621.40)" d="M0.65,-7.3V3.1M0.65,-7.3V-2.4Q0.7,-0.1 3.0,-0.1Q5.3,-0.1 5.75,-2.6M5.75,-7.3V-1.3Q5.75,0 7.4,-0.35" stroke="#000" stroke-width="1.15" fill="none"/>
<text x="717.50" y="621.40" font-family="Liberation Sans, sans-serif" font-size="16.0">m/s</text>
<path d="M626.60,637.32H640.35M652.35,637.32H666.00" stroke="#ff8000" stroke-width="2.2" stroke-linecap="round" fill="none"/>
<circle cx="646.25" cy="637.32" r="4.60" fill="#ff8000"/>
<text x="670.50" y="643.22" font-family="Liberation Sans, sans-serif" font-size="16.6">87.8</text>
<path transform="translate(708.90,643.22)" d="M0.65,-7.3V3.1M0.65,-7.3V-2.4Q0.7,-0.1 3.0,-0.1Q5.3,-0.1 5.75,-2.6M5.75,-7.3V-1.3Q5.75,0 7.4,-0.35" stroke="#000" stroke-width="1.15" fill="none"/>
<text x="717.50" y="643.22" font-family="Liberation Sans, sans-serif" font-size="16.0">m/s</text>
<path d="M626.60,659.14H640.35M652.35,659.14H666.00" stroke="#008000" stroke-width="2.2" stroke-linecap="round" fill="none"/>
<polygon points="646.25,652.54 640.53,662.44 651.97,662.44" fill="#008000"/>
<text x="670.50" y="665.04" font-family="Liberation Sans, sans-serif" font-size="16.6">290.4</text>
<path transform="translate(718.13,665.04)" d="M0.65,-7.3V3.1M0.65,-7.3V-2.4Q0.7,-0.1 3.0,-0.1Q5.3,-0.1 5.75,-2.6M5.75,-7.3V-1.3Q5.75,0 7.4,-0.35" stroke="#000" stroke-width="1.15" fill="none"/>
<text x="726.74" y="665.04" font-family="Liberation Sans, sans-serif" font-size="16.0">m/s</text>
<path d="M626.60,680.96H640.35M652.35,680.96H666.00" stroke="#0000ff" stroke-width="2.2" stroke-linecap="round" fill="none"/>
<polygon points="646.25,675.01 651.85,680.96 646.25,686.91 640.65,680.96" fill="#0000ff"/>
<text x="670.50" y="686.86" font-family="Liberation Sans, sans-serif" font-size="16.6">465.2</text>
<path transform="translate(718.13,686.86)" d="M0.65,-7.3V3.1M0.65,-7.3V-2.4Q0.7,-0.1 3.0,-0.1Q5.3,-0.1 5.75,-2.6M5.75,-7.3V-1.3Q5.75,0 7.4,-0.35" stroke="#000" stroke-width="1.15" fill="none"/>
<text x="726.74" y="686.86" font-family="Liberation Sans, sans-serif" font-size="16.0">m/s</text>
<path d="M626.60,702.78H640.35M652.35,702.78H666.00" stroke="#000080" stroke-width="2.2" stroke-linecap="round" fill="none"/>
<polygon points="646.25,695.98 647.85,700.58 652.72,700.68 648.84,703.62 650.25,708.28 646.25,705.50 642.25,708.28 643.66,703.62 639.78,700.68 644.65,700.58" fill="#000080"/>
<text x="670.50" y="708.68" font-family="Liberation Sans, sans-serif" font-size="16.6">885. 7</text>
<path transform="translate(722.75,708.68)" d="M0.65,-7.3V3.1M0.65,-7.3V-2.4Q0.7,-0.1 3.0,-0.1Q5.3,-0.1 5.75,-2.6M5.75,-7.3V-1.3Q5.75,0 7.4,-0.35" stroke="#000" stroke-width="1.15" fill="none"/>
<text x="731.35" y="708.68" font-family="Liberation Sans, sans-serif" font-size="16.0">m/s</text>
<path d="M626.60,724.60H640.35M652.35,724.60H666.00" stroke="#8000ff" stroke-width="2.2" stroke-linecap="round" fill="none"/>
<polygon points="646.25,719.30 650.84,721.95 650.84,727.25 646.25,729.90 641.66,727.25 641.66,721.95" fill="#8000ff"/>
<text x="670.50" y="730.50" font-family="Liberation Sans, sans-serif" font-size="16.6">1123.2</text><rect x="670.86" y="727.96" width="3.63" height="3.34" fill="#fff"/><rect x="676.32" y="727.96" width="3.98" height="3.34" fill="#fff"/><rect x="680.10" y="727.96" width="3.63" height="3.34" fill="#fff"/><rect x="685.55" y="727.96" width="3.98" height="3.34" fill="#fff"/>
<path transform="translate(727.37,730.50)" d="M0.65,-7.3V3.1M0.65,-7.3V-2.4Q0.7,-0.1 3.0,-0.1Q5.3,-0.1 5.75,-2.6M5.75,-7.3V-1.3Q5.75,0 7.4,-0.35" stroke="#000" stroke-width="1.15" fill="none"/>
<text x="735.97" y="730.50" font-family="Liberation Sans, sans-serif" font-size="16.0">m/s</text>
</svg>
</body></html>
